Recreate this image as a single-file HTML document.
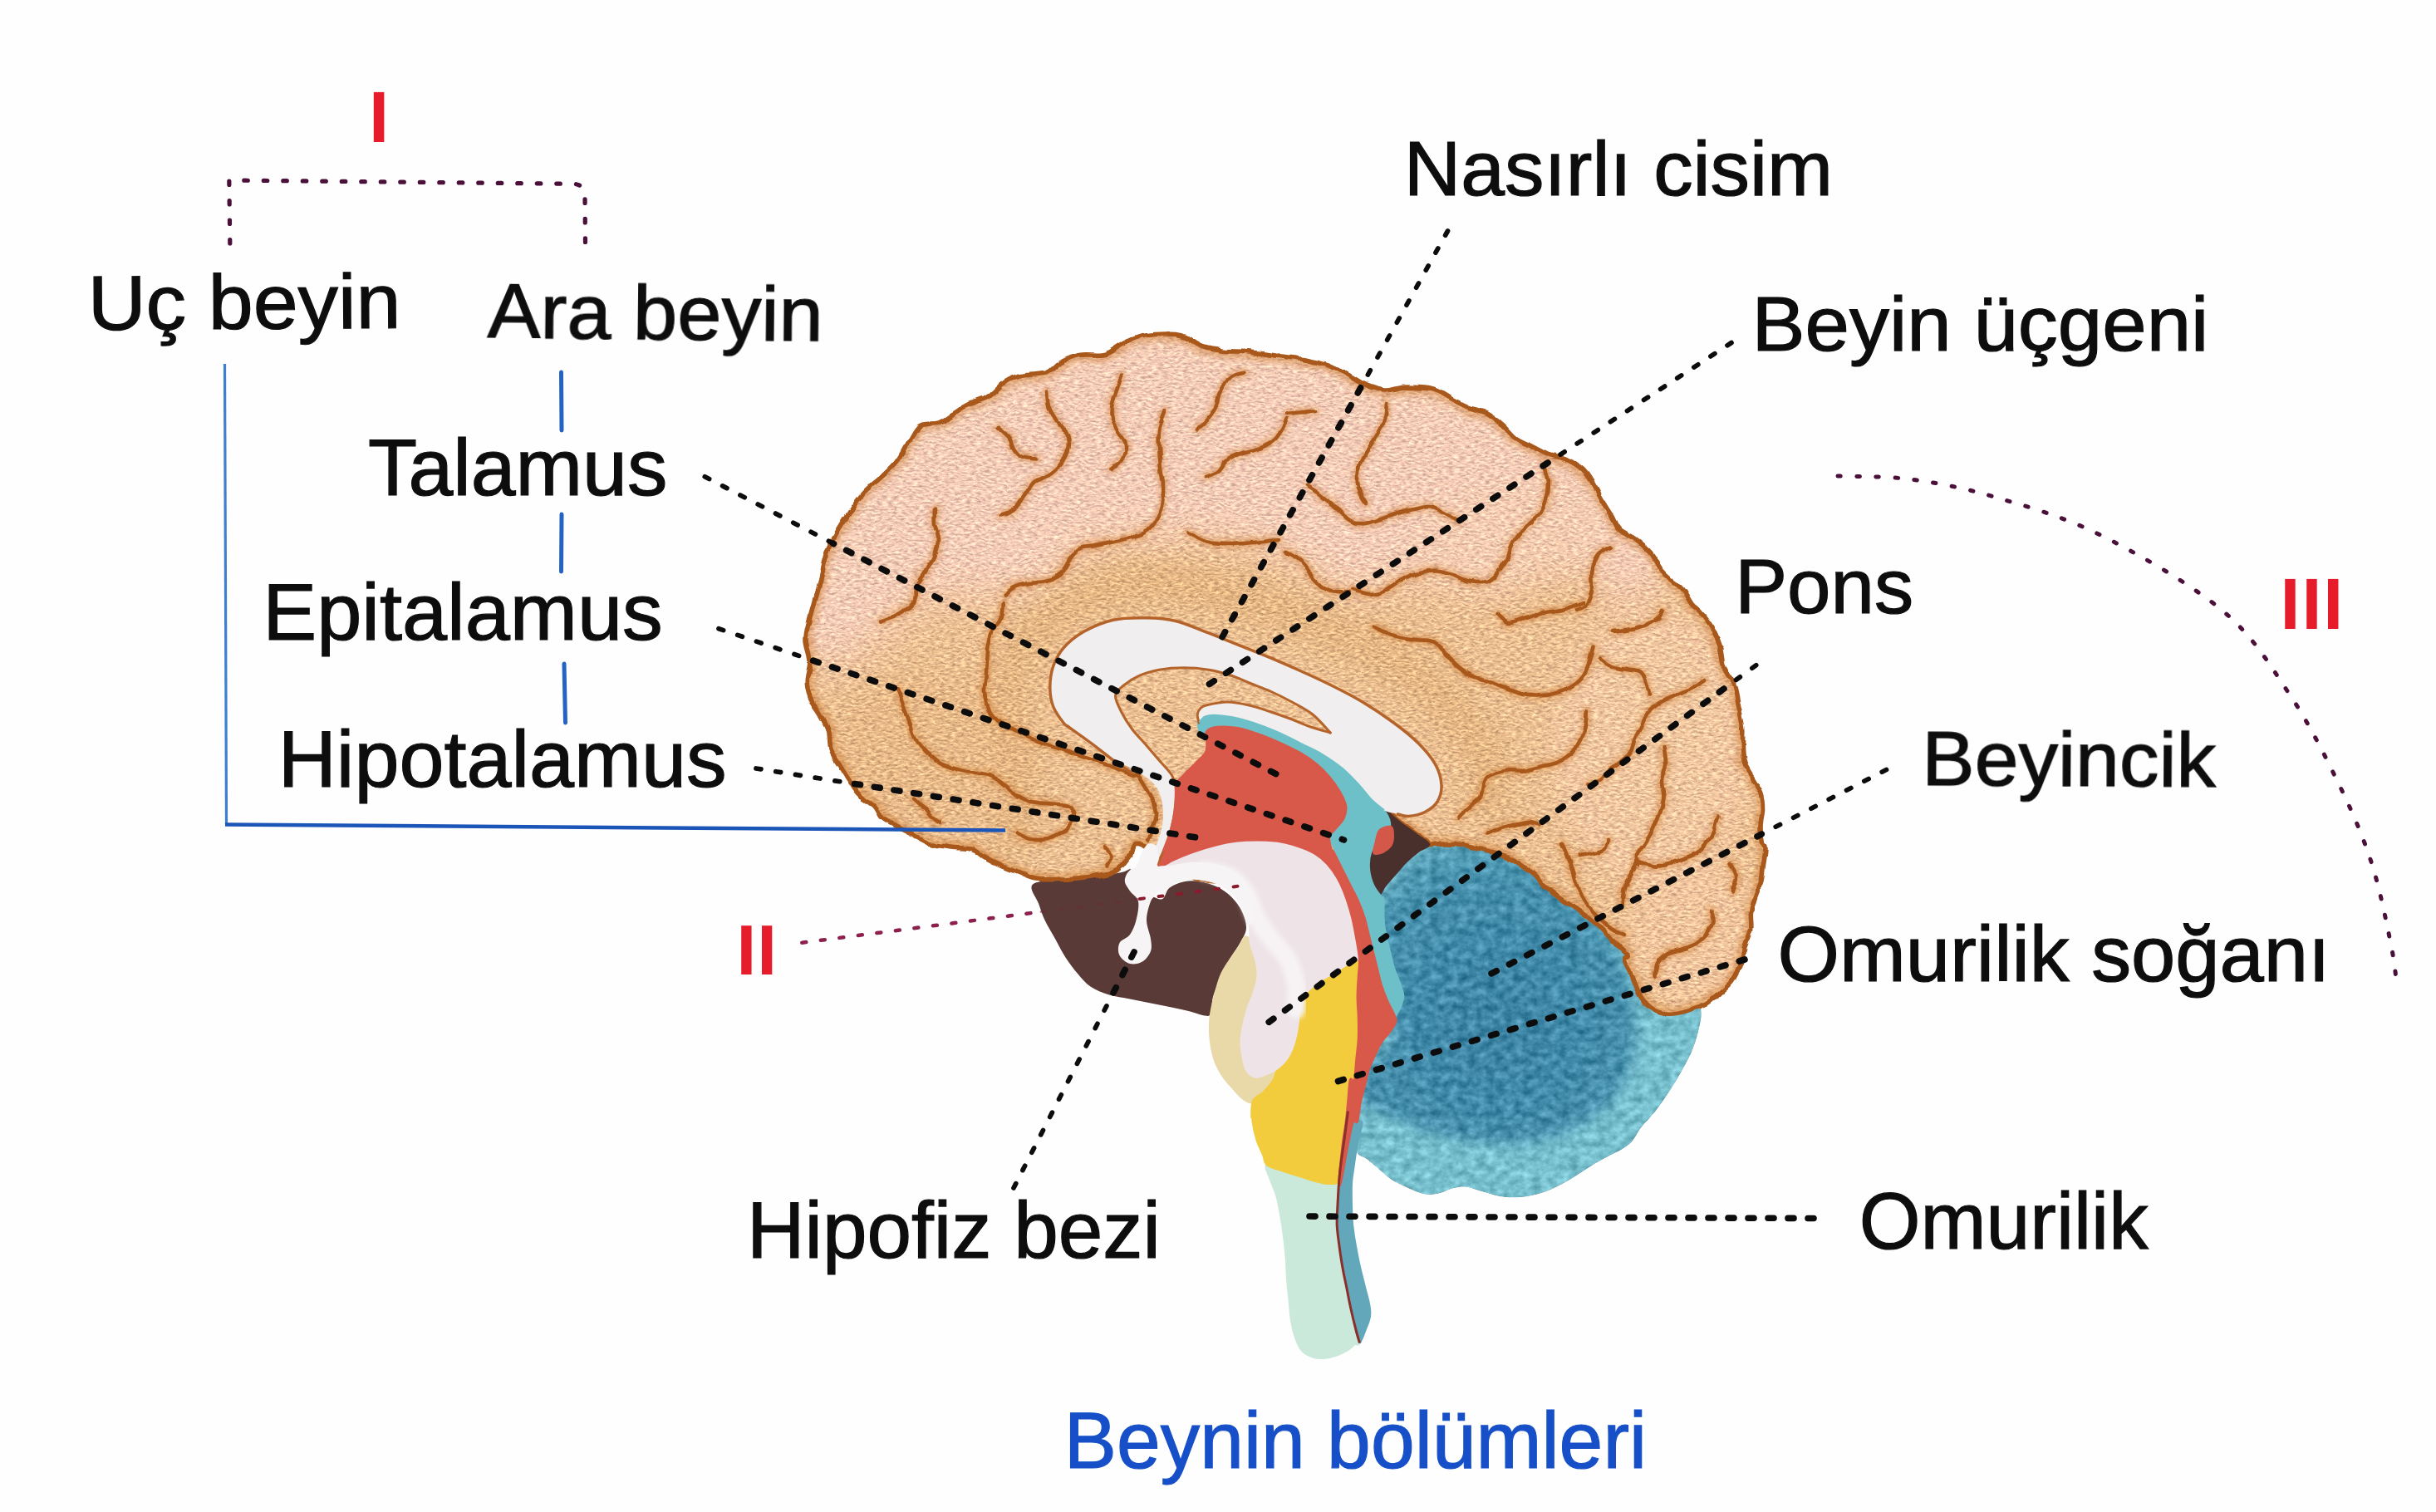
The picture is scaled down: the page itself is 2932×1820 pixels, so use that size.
<!DOCTYPE html>
<html lang="tr"><head><meta charset="utf-8"><title>Beynin bölümleri</title>
<style>
html,body{margin:0;padding:0;background:#fefefe;}
body{width:2932px;height:1820px;overflow:hidden;}
svg{display:block;}
text{font-family:"Liberation Sans",sans-serif;}
</style></head><body>
<svg width="2932" height="1820" viewBox="0 0 2932 1820">
<defs>
<linearGradient id="gCer" gradientUnits="userSpaceOnUse" x1="1050" y1="450" x2="2050" y2="1200">
 <stop offset="0" stop-color="#f6cdb9"/><stop offset="0.4" stop-color="#f2c4a2"/><stop offset="1" stop-color="#ebbb88"/>
</linearGradient>
<radialGradient id="gCbl" gradientUnits="userSpaceOnUse" cx="1800" cy="1230" r="230">
 <stop offset="0" stop-color="#3c82a3"/><stop offset="0.75" stop-color="#4690ad"/><stop offset="1" stop-color="#5aa3b9"/>
</radialGradient>
<filter id="bt" x="-5%" y="-20%" width="110%" height="140%"><feGaussianBlur stdDeviation="0.7"/></filter>
<filter id="b3" x="-10%" y="-10%" width="120%" height="120%"><feGaussianBlur stdDeviation="3"/></filter>
<filter id="b8" x="-20%" y="-20%" width="140%" height="140%"><feGaussianBlur stdDeviation="8"/></filter>
<filter id="b14" x="-30%" y="-30%" width="160%" height="160%"><feGaussianBlur stdDeviation="14"/></filter>
<filter id="b24" x="-30%" y="-30%" width="160%" height="160%"><feGaussianBlur stdDeviation="24"/></filter>
<filter id="rough" x="-2%" y="-2%" width="104%" height="104%">
 <feTurbulence type="fractalNoise" baseFrequency="0.045" numOctaves="2" seed="5" result="t"/>
 <feDisplacementMap in="SourceGraphic" in2="t" scale="7" xChannelSelector="R" yChannelSelector="G"/>
</filter>
<filter id="texCer" x="0" y="0" width="100%" height="100%" color-interpolation-filters="sRGB">
 <feTurbulence type="fractalNoise" baseFrequency="0.16 0.42" numOctaves="2" seed="7" result="n"/>
 <feColorMatrix in="n" type="matrix" values="1 0 0 0 0  1 0 0 0 0  0.8 0 0 0 0.1  0 0 0 0 1" result="g"/>
 <feComposite in="SourceGraphic" in2="g" operator="arithmetic" k1="0" k2="1" k3="0.55" k4="-0.275" result="c"/>
 <feComposite in="c" in2="SourceGraphic" operator="in"/>
</filter>
<filter id="texCbl" x="0" y="0" width="100%" height="100%" color-interpolation-filters="sRGB">
 <feTurbulence type="fractalNoise" baseFrequency="0.09 0.11" numOctaves="3" seed="11" result="n"/>
 <feColorMatrix in="n" type="matrix" values="1 0 0 0 0  1 0 0 0 0  1 0 0 0 0  0 0 0 0 1" result="g"/>
 <feComposite in="SourceGraphic" in2="g" operator="arithmetic" k1="0" k2="1" k3="0.36" k4="-0.18" result="c"/>
 <feComposite in="c" in2="SourceGraphic" operator="in"/>
</filter>
</defs>
<rect width="2932" height="1820" fill="#fefefe"/>
<g filter="url(#texCbl)">
<path d="M1655.0 1080.0C1655.6 1073.8 1661.7 1055.8 1665.0 1045.0C1668.3 1034.2 1669.2 1025.0 1675.0 1015.0C1680.8 1005.0 1685.8 991.7 1700.0 985.0C1714.2 978.3 1738.3 972.5 1760.0 975.0C1781.7 977.5 1806.7 987.5 1830.0 1000.0C1853.3 1012.5 1873.3 1025.0 1900.0 1050.0C1926.7 1075.0 1966.7 1124.2 1990.0 1150.0C2013.3 1175.8 2030.4 1193.8 2040.0 1205.0C2049.6 1216.2 2046.7 1212.1 2047.5 1217.5C2048.3 1222.9 2046.7 1230.0 2045.0 1237.5C2043.3 1245.0 2040.8 1254.2 2037.5 1262.5C2034.2 1270.8 2029.6 1279.2 2025.0 1287.5C2020.4 1295.8 2015.4 1304.2 2010.0 1312.5C2004.6 1320.8 1998.3 1330.0 1992.5 1337.5C1986.7 1345.0 1980.4 1350.8 1975.0 1357.5C1969.6 1364.2 1968.3 1371.3 1960.0 1378.0C1951.7 1384.7 1934.2 1392.2 1925.0 1397.5C1915.8 1402.8 1911.7 1405.8 1905.0 1410.0C1898.3 1414.2 1891.7 1418.8 1885.0 1422.5C1878.3 1426.2 1871.7 1429.8 1865.0 1432.5C1858.3 1435.2 1851.7 1437.3 1845.0 1438.8C1838.3 1440.2 1831.7 1441.0 1825.0 1441.2C1818.3 1441.5 1812.1 1441.2 1805.0 1440.0C1797.9 1438.8 1789.2 1435.6 1782.5 1433.8C1775.8 1431.9 1770.4 1429.4 1765.0 1428.8C1759.6 1428.1 1755.4 1428.8 1750.0 1430.0C1744.6 1431.2 1738.3 1435.0 1732.5 1436.2C1726.7 1437.5 1721.2 1438.5 1715.0 1437.5C1708.8 1436.5 1701.7 1432.9 1695.0 1430.0C1688.3 1427.1 1680.8 1423.8 1675.0 1420.0C1669.2 1416.2 1665.0 1411.7 1660.0 1407.5C1655.0 1403.3 1649.6 1398.8 1645.0 1395.0C1640.4 1391.2 1634.6 1392.5 1632.5 1385.0C1630.4 1377.5 1631.7 1359.6 1632.5 1350.0C1633.3 1340.4 1635.8 1334.6 1637.5 1327.5C1639.2 1320.4 1640.8 1314.2 1642.5 1307.5C1644.2 1300.8 1645.4 1293.8 1647.5 1287.5C1649.6 1281.2 1652.5 1275.4 1655.0 1270.0C1657.5 1264.6 1659.6 1259.6 1662.5 1255.0C1665.4 1250.4 1670.0 1246.7 1672.5 1242.5C1675.0 1238.3 1675.8 1237.1 1677.5 1230.0C1679.2 1222.9 1682.1 1207.5 1682.5 1200.0C1682.9 1192.5 1681.2 1190.8 1680.0 1185.0C1678.8 1179.2 1676.7 1171.7 1675.0 1165.0C1673.3 1158.3 1671.7 1151.7 1670.0 1145.0C1668.3 1138.3 1666.2 1131.7 1665.0 1125.0C1663.8 1118.3 1663.1 1112.1 1662.5 1105.0C1661.9 1097.9 1662.5 1086.7 1661.2 1082.5C1660.0 1078.3 1654.4 1086.2 1655.0 1080.0Z" fill="#78bfce"/>
<path d="M1670.0 1075.0C1675.8 1068.3 1680.0 1049.8 1690.0 1040.0C1700.0 1030.2 1716.7 1021.0 1730.0 1016.0C1743.3 1011.0 1755.8 1008.5 1770.0 1010.0C1784.2 1011.5 1800.0 1017.9 1815.0 1025.0C1830.0 1032.1 1845.8 1042.1 1860.0 1052.5C1874.2 1062.9 1887.5 1075.4 1900.0 1087.5C1912.5 1099.6 1925.4 1111.2 1935.0 1125.0C1944.6 1138.8 1952.1 1154.2 1957.5 1170.0C1962.9 1185.8 1965.8 1205.0 1967.5 1220.0C1969.2 1235.0 1969.6 1246.7 1967.5 1260.0C1965.4 1273.3 1961.2 1287.5 1955.0 1300.0C1948.8 1312.5 1940.8 1325.0 1930.0 1335.0C1919.2 1345.0 1905.0 1353.3 1890.0 1360.0C1875.0 1366.7 1856.7 1372.5 1840.0 1375.0C1823.3 1377.5 1806.7 1376.2 1790.0 1375.0C1773.3 1373.8 1755.0 1370.8 1740.0 1367.5C1725.0 1364.2 1712.5 1359.6 1700.0 1355.0C1687.5 1350.4 1675.8 1344.6 1665.0 1340.0C1654.2 1335.4 1639.2 1335.0 1635.0 1327.5C1630.8 1320.0 1635.4 1305.4 1640.0 1295.0C1644.6 1284.6 1656.2 1273.8 1662.5 1265.0C1668.8 1256.2 1677.9 1251.7 1677.5 1242.5C1677.1 1233.3 1665.0 1223.8 1660.0 1210.0C1655.0 1196.2 1650.0 1176.7 1647.5 1160.0C1645.0 1143.3 1643.8 1123.3 1645.0 1110.0C1646.2 1096.7 1650.8 1085.8 1655.0 1080.0C1659.2 1074.2 1664.2 1081.7 1670.0 1075.0Z" fill="url(#gCbl)" filter="url(#b8)"/>
</g>
<path d="M1242.5 1065.0C1246.7 1060.2 1263.3 1060.2 1275.0 1058.8C1286.7 1057.3 1300.0 1057.7 1312.5 1056.2C1325.0 1054.8 1341.7 1051.5 1350.0 1050.0C1358.3 1048.5 1358.3 1044.2 1362.5 1047.5C1366.7 1050.8 1369.2 1064.2 1375.0 1070.0C1380.8 1075.8 1392.1 1082.7 1397.5 1082.5C1402.9 1082.3 1402.9 1072.3 1407.5 1068.8C1412.1 1065.2 1418.8 1062.5 1425.0 1061.2C1431.2 1060.0 1438.3 1060.2 1445.0 1061.2C1451.7 1062.3 1458.8 1064.4 1465.0 1067.5C1471.2 1070.6 1477.5 1075.0 1482.5 1080.0C1487.5 1085.0 1492.1 1091.2 1495.0 1097.5C1497.9 1103.8 1500.4 1111.2 1500.0 1117.5C1499.6 1123.8 1495.8 1128.8 1492.5 1135.0C1489.2 1141.2 1483.8 1148.3 1480.0 1155.0C1476.2 1161.7 1473.3 1167.5 1470.0 1175.0C1466.7 1182.5 1462.1 1192.5 1460.0 1200.0C1457.9 1207.5 1459.2 1216.2 1457.5 1220.0C1455.8 1223.8 1454.2 1222.9 1450.0 1222.5C1445.8 1222.1 1439.2 1219.2 1432.5 1217.5C1425.8 1215.8 1417.9 1214.2 1410.0 1212.5C1402.1 1210.8 1393.3 1209.2 1385.0 1207.5C1376.7 1205.8 1368.3 1204.2 1360.0 1202.5C1351.7 1200.8 1342.9 1200.0 1335.0 1197.5C1327.1 1195.0 1318.8 1191.7 1312.5 1187.5C1306.2 1183.3 1302.5 1178.3 1297.5 1172.5C1292.5 1166.7 1287.1 1159.6 1282.5 1152.5C1277.9 1145.4 1274.2 1137.5 1270.0 1130.0C1265.8 1122.5 1260.8 1114.6 1257.5 1107.5C1254.2 1100.4 1252.5 1094.6 1250.0 1087.5C1247.5 1080.4 1238.3 1069.8 1242.5 1065.0Z" fill="#5a3a36"/>
<clipPath id="cpCer"><path d="M1375.0 1017.5C1360.0 1012.5 1364.2 1025.8 1360.0 1030.0C1355.8 1034.2 1353.3 1039.2 1350.0 1042.5C1346.7 1045.8 1345.8 1047.9 1340.0 1050.0C1334.2 1052.1 1323.3 1053.8 1315.0 1055.0C1306.7 1056.2 1298.3 1056.9 1290.0 1057.5C1281.7 1058.1 1272.5 1058.8 1265.0 1058.8C1257.5 1058.8 1251.7 1059.0 1245.0 1057.5C1238.3 1056.0 1231.7 1052.5 1225.0 1050.0C1218.3 1047.5 1211.7 1045.4 1205.0 1042.5C1198.3 1039.6 1190.8 1035.8 1185.0 1032.5C1179.2 1029.2 1176.7 1024.6 1170.0 1022.5C1163.3 1020.4 1153.3 1021.2 1145.0 1020.0C1136.7 1018.8 1127.5 1017.5 1120.0 1015.0C1112.5 1012.5 1106.7 1008.3 1100.0 1005.0C1093.3 1001.7 1086.2 998.3 1080.0 995.0C1073.8 991.7 1067.1 989.2 1062.5 985.0C1057.9 980.8 1057.1 974.6 1052.5 970.0C1047.9 965.4 1040.0 962.5 1035.0 957.5C1030.0 952.5 1026.7 946.2 1022.5 940.0C1018.3 933.8 1013.8 926.2 1010.0 920.0C1006.2 913.8 1002.1 909.2 1000.0 902.5C997.9 895.8 999.6 887.1 997.5 880.0C995.4 872.9 991.2 866.7 987.5 860.0C983.8 853.3 977.7 846.7 975.0 840.0C972.3 833.3 971.2 827.5 971.2 820.0C971.2 812.5 975.2 803.3 975.0 795.0C974.8 786.7 970.2 777.9 970.0 770.0C969.8 762.1 971.2 758.3 973.8 747.5C976.2 736.7 981.5 718.8 985.0 705.0C988.5 691.2 992.1 674.2 995.0 665.0C997.9 655.8 997.9 657.9 1002.5 650.0C1007.1 642.1 1016.2 627.1 1022.5 617.5C1028.8 607.9 1033.8 599.6 1040.0 592.5C1046.2 585.4 1053.3 581.2 1060.0 575.0C1066.7 568.8 1074.2 562.5 1080.0 555.0C1085.8 547.5 1090.4 537.1 1095.0 530.0C1099.6 522.9 1101.7 516.0 1107.5 512.5C1113.3 509.0 1123.8 510.8 1130.0 508.8C1136.2 506.7 1139.2 503.5 1145.0 500.0C1150.8 496.5 1157.5 491.2 1165.0 487.5C1172.5 483.8 1182.5 482.1 1190.0 477.5C1197.5 472.9 1203.3 464.2 1210.0 460.0C1216.7 455.8 1221.7 454.4 1230.0 452.5C1238.3 450.6 1252.5 451.2 1260.0 448.8C1267.5 446.2 1268.3 441.0 1275.0 437.5C1281.7 434.0 1290.8 429.4 1300.0 427.5C1309.2 425.6 1320.8 428.8 1330.0 426.2C1339.2 423.8 1346.7 416.2 1355.0 412.5C1363.3 408.8 1370.0 405.4 1380.0 403.8C1390.0 402.1 1406.7 401.9 1415.0 402.5C1423.3 403.1 1424.6 405.0 1430.0 407.5C1435.4 410.0 1440.0 415.0 1447.5 417.5C1455.0 420.0 1465.8 421.5 1475.0 422.5C1484.2 423.5 1490.2 422.5 1502.5 423.8C1514.8 425.0 1537.1 428.3 1549.0 430.0C1560.9 431.7 1565.7 432.1 1574.0 433.8C1582.3 435.4 1590.7 436.9 1599.0 440.0C1607.3 443.1 1616.9 448.8 1624.0 452.5C1631.1 456.2 1634.4 459.6 1641.5 462.5C1648.6 465.4 1658.6 469.4 1666.5 470.0C1674.4 470.6 1679.4 466.5 1689.0 466.2C1698.6 466.0 1714.4 466.5 1724.0 468.8C1733.6 471.0 1739.4 476.5 1746.5 480.0C1753.6 483.5 1759.4 487.1 1766.5 490.0C1773.6 492.9 1781.9 493.8 1789.0 497.5C1796.1 501.2 1803.2 507.5 1809.0 512.5C1814.8 517.5 1818.2 523.3 1824.0 527.5C1829.8 531.7 1837.3 534.2 1844.0 537.5C1850.7 540.8 1857.3 545.0 1864.0 547.5C1870.7 550.0 1877.3 549.6 1884.0 552.5C1890.7 555.4 1898.6 560.0 1904.0 565.0C1909.4 570.0 1912.8 576.7 1916.5 582.5C1920.2 588.3 1922.8 593.8 1926.5 600.0C1930.2 606.2 1935.2 613.8 1939.0 620.0C1942.8 626.2 1944.0 632.5 1949.0 637.5C1954.0 642.5 1962.8 645.4 1969.0 650.0C1975.2 654.6 1981.5 659.2 1986.5 665.0C1991.5 670.8 1994.8 679.6 1999.0 685.0C2003.2 690.4 2007.3 693.8 2011.5 697.5C2015.7 701.2 2019.8 702.5 2024.0 707.5C2028.2 712.5 2033.0 722.9 2036.5 727.5C2040.0 732.1 2041.1 730.4 2045.0 735.0C2048.9 739.6 2055.8 747.9 2060.0 755.0C2064.2 762.1 2067.5 769.6 2070.0 777.5C2072.5 785.4 2072.1 794.6 2075.0 802.5C2077.9 810.4 2084.6 817.1 2087.5 825.0C2090.4 832.9 2090.8 841.7 2092.5 850.0C2094.2 858.3 2096.7 866.7 2097.5 875.0C2098.3 883.3 2097.1 892.5 2097.5 900.0C2097.9 907.5 2097.9 913.8 2100.0 920.0C2102.1 926.2 2106.7 931.7 2110.0 937.5C2113.3 943.3 2117.9 948.8 2120.0 955.0C2122.1 961.2 2122.5 968.3 2122.5 975.0C2122.5 981.7 2120.0 988.3 2120.0 995.0C2120.0 1001.7 2121.7 1010.8 2122.5 1015.0C2123.3 1019.2 2125.0 1015.8 2125.0 1020.0C2125.0 1024.2 2123.3 1033.3 2122.5 1040.0C2121.7 1046.7 2121.7 1053.3 2120.0 1060.0C2118.3 1066.7 2114.6 1073.3 2112.5 1080.0C2110.4 1086.7 2108.3 1093.3 2107.5 1100.0C2106.7 1106.7 2108.8 1113.3 2107.5 1120.0C2106.2 1126.7 2102.1 1133.3 2100.0 1140.0C2097.9 1146.7 2097.5 1153.3 2095.0 1160.0C2092.5 1166.7 2089.2 1174.2 2085.0 1180.0C2080.8 1185.8 2075.0 1190.4 2070.0 1195.0C2065.0 1199.6 2060.8 1204.2 2055.0 1207.5C2049.2 1210.8 2041.7 1212.9 2035.0 1215.0C2028.3 1217.1 2021.2 1219.4 2015.0 1220.0C2008.8 1220.6 2002.9 1220.4 1997.5 1218.8C1992.1 1217.1 1986.7 1214.0 1982.5 1210.0C1978.3 1206.0 1975.4 1200.8 1972.5 1195.0C1969.6 1189.2 1967.9 1181.7 1965.0 1175.0C1962.1 1168.3 1955.8 1159.2 1955.0 1155.0C1954.2 1150.8 1961.9 1153.6 1960.0 1150.0C1958.1 1146.4 1948.9 1138.9 1943.3 1133.3C1937.8 1127.8 1932.2 1121.7 1926.7 1116.7C1921.1 1111.7 1915.6 1107.5 1910.0 1103.3C1904.4 1099.2 1898.9 1095.6 1893.3 1091.7C1887.8 1087.8 1882.2 1084.2 1876.7 1080.0C1871.1 1075.8 1865.6 1071.7 1860.0 1066.7C1854.4 1061.7 1848.9 1054.7 1843.3 1050.0C1837.8 1045.3 1832.8 1041.9 1826.7 1038.3C1820.6 1034.7 1813.6 1030.8 1806.7 1028.3C1799.7 1025.8 1792.8 1025.3 1785.0 1023.3C1777.2 1021.4 1767.5 1018.1 1760.0 1016.7C1752.5 1015.3 1745.8 1015.0 1740.0 1015.0C1734.2 1015.0 1728.2 1016.3 1725.0 1016.7C1721.8 1017.0 1724.2 1019.1 1720.8 1017.0C1717.5 1014.9 1710.7 1008.5 1705.0 1004.2C1699.3 999.8 1691.4 994.4 1686.7 990.8C1681.9 987.2 1680.0 985.4 1676.7 982.5C1673.3 979.6 1679.4 963.8 1666.7 973.3C1653.9 982.9 1636.1 1025.6 1600.0 1040.0C1563.9 1054.4 1487.5 1063.8 1450.0 1060.0C1412.5 1056.2 1390.0 1022.5 1375.0 1017.5Z"/></clipPath>
<g filter="url(#rough)">
<g filter="url(#texCer)">
<path d="M1375.0 1017.5C1360.0 1012.5 1364.2 1025.8 1360.0 1030.0C1355.8 1034.2 1353.3 1039.2 1350.0 1042.5C1346.7 1045.8 1345.8 1047.9 1340.0 1050.0C1334.2 1052.1 1323.3 1053.8 1315.0 1055.0C1306.7 1056.2 1298.3 1056.9 1290.0 1057.5C1281.7 1058.1 1272.5 1058.8 1265.0 1058.8C1257.5 1058.8 1251.7 1059.0 1245.0 1057.5C1238.3 1056.0 1231.7 1052.5 1225.0 1050.0C1218.3 1047.5 1211.7 1045.4 1205.0 1042.5C1198.3 1039.6 1190.8 1035.8 1185.0 1032.5C1179.2 1029.2 1176.7 1024.6 1170.0 1022.5C1163.3 1020.4 1153.3 1021.2 1145.0 1020.0C1136.7 1018.8 1127.5 1017.5 1120.0 1015.0C1112.5 1012.5 1106.7 1008.3 1100.0 1005.0C1093.3 1001.7 1086.2 998.3 1080.0 995.0C1073.8 991.7 1067.1 989.2 1062.5 985.0C1057.9 980.8 1057.1 974.6 1052.5 970.0C1047.9 965.4 1040.0 962.5 1035.0 957.5C1030.0 952.5 1026.7 946.2 1022.5 940.0C1018.3 933.8 1013.8 926.2 1010.0 920.0C1006.2 913.8 1002.1 909.2 1000.0 902.5C997.9 895.8 999.6 887.1 997.5 880.0C995.4 872.9 991.2 866.7 987.5 860.0C983.8 853.3 977.7 846.7 975.0 840.0C972.3 833.3 971.2 827.5 971.2 820.0C971.2 812.5 975.2 803.3 975.0 795.0C974.8 786.7 970.2 777.9 970.0 770.0C969.8 762.1 971.2 758.3 973.8 747.5C976.2 736.7 981.5 718.8 985.0 705.0C988.5 691.2 992.1 674.2 995.0 665.0C997.9 655.8 997.9 657.9 1002.5 650.0C1007.1 642.1 1016.2 627.1 1022.5 617.5C1028.8 607.9 1033.8 599.6 1040.0 592.5C1046.2 585.4 1053.3 581.2 1060.0 575.0C1066.7 568.8 1074.2 562.5 1080.0 555.0C1085.8 547.5 1090.4 537.1 1095.0 530.0C1099.6 522.9 1101.7 516.0 1107.5 512.5C1113.3 509.0 1123.8 510.8 1130.0 508.8C1136.2 506.7 1139.2 503.5 1145.0 500.0C1150.8 496.5 1157.5 491.2 1165.0 487.5C1172.5 483.8 1182.5 482.1 1190.0 477.5C1197.5 472.9 1203.3 464.2 1210.0 460.0C1216.7 455.8 1221.7 454.4 1230.0 452.5C1238.3 450.6 1252.5 451.2 1260.0 448.8C1267.5 446.2 1268.3 441.0 1275.0 437.5C1281.7 434.0 1290.8 429.4 1300.0 427.5C1309.2 425.6 1320.8 428.8 1330.0 426.2C1339.2 423.8 1346.7 416.2 1355.0 412.5C1363.3 408.8 1370.0 405.4 1380.0 403.8C1390.0 402.1 1406.7 401.9 1415.0 402.5C1423.3 403.1 1424.6 405.0 1430.0 407.5C1435.4 410.0 1440.0 415.0 1447.5 417.5C1455.0 420.0 1465.8 421.5 1475.0 422.5C1484.2 423.5 1490.2 422.5 1502.5 423.8C1514.8 425.0 1537.1 428.3 1549.0 430.0C1560.9 431.7 1565.7 432.1 1574.0 433.8C1582.3 435.4 1590.7 436.9 1599.0 440.0C1607.3 443.1 1616.9 448.8 1624.0 452.5C1631.1 456.2 1634.4 459.6 1641.5 462.5C1648.6 465.4 1658.6 469.4 1666.5 470.0C1674.4 470.6 1679.4 466.5 1689.0 466.2C1698.6 466.0 1714.4 466.5 1724.0 468.8C1733.6 471.0 1739.4 476.5 1746.5 480.0C1753.6 483.5 1759.4 487.1 1766.5 490.0C1773.6 492.9 1781.9 493.8 1789.0 497.5C1796.1 501.2 1803.2 507.5 1809.0 512.5C1814.8 517.5 1818.2 523.3 1824.0 527.5C1829.8 531.7 1837.3 534.2 1844.0 537.5C1850.7 540.8 1857.3 545.0 1864.0 547.5C1870.7 550.0 1877.3 549.6 1884.0 552.5C1890.7 555.4 1898.6 560.0 1904.0 565.0C1909.4 570.0 1912.8 576.7 1916.5 582.5C1920.2 588.3 1922.8 593.8 1926.5 600.0C1930.2 606.2 1935.2 613.8 1939.0 620.0C1942.8 626.2 1944.0 632.5 1949.0 637.5C1954.0 642.5 1962.8 645.4 1969.0 650.0C1975.2 654.6 1981.5 659.2 1986.5 665.0C1991.5 670.8 1994.8 679.6 1999.0 685.0C2003.2 690.4 2007.3 693.8 2011.5 697.5C2015.7 701.2 2019.8 702.5 2024.0 707.5C2028.2 712.5 2033.0 722.9 2036.5 727.5C2040.0 732.1 2041.1 730.4 2045.0 735.0C2048.9 739.6 2055.8 747.9 2060.0 755.0C2064.2 762.1 2067.5 769.6 2070.0 777.5C2072.5 785.4 2072.1 794.6 2075.0 802.5C2077.9 810.4 2084.6 817.1 2087.5 825.0C2090.4 832.9 2090.8 841.7 2092.5 850.0C2094.2 858.3 2096.7 866.7 2097.5 875.0C2098.3 883.3 2097.1 892.5 2097.5 900.0C2097.9 907.5 2097.9 913.8 2100.0 920.0C2102.1 926.2 2106.7 931.7 2110.0 937.5C2113.3 943.3 2117.9 948.8 2120.0 955.0C2122.1 961.2 2122.5 968.3 2122.5 975.0C2122.5 981.7 2120.0 988.3 2120.0 995.0C2120.0 1001.7 2121.7 1010.8 2122.5 1015.0C2123.3 1019.2 2125.0 1015.8 2125.0 1020.0C2125.0 1024.2 2123.3 1033.3 2122.5 1040.0C2121.7 1046.7 2121.7 1053.3 2120.0 1060.0C2118.3 1066.7 2114.6 1073.3 2112.5 1080.0C2110.4 1086.7 2108.3 1093.3 2107.5 1100.0C2106.7 1106.7 2108.8 1113.3 2107.5 1120.0C2106.2 1126.7 2102.1 1133.3 2100.0 1140.0C2097.9 1146.7 2097.5 1153.3 2095.0 1160.0C2092.5 1166.7 2089.2 1174.2 2085.0 1180.0C2080.8 1185.8 2075.0 1190.4 2070.0 1195.0C2065.0 1199.6 2060.8 1204.2 2055.0 1207.5C2049.2 1210.8 2041.7 1212.9 2035.0 1215.0C2028.3 1217.1 2021.2 1219.4 2015.0 1220.0C2008.8 1220.6 2002.9 1220.4 1997.5 1218.8C1992.1 1217.1 1986.7 1214.0 1982.5 1210.0C1978.3 1206.0 1975.4 1200.8 1972.5 1195.0C1969.6 1189.2 1967.9 1181.7 1965.0 1175.0C1962.1 1168.3 1955.8 1159.2 1955.0 1155.0C1954.2 1150.8 1961.9 1153.6 1960.0 1150.0C1958.1 1146.4 1948.9 1138.9 1943.3 1133.3C1937.8 1127.8 1932.2 1121.7 1926.7 1116.7C1921.1 1111.7 1915.6 1107.5 1910.0 1103.3C1904.4 1099.2 1898.9 1095.6 1893.3 1091.7C1887.8 1087.8 1882.2 1084.2 1876.7 1080.0C1871.1 1075.8 1865.6 1071.7 1860.0 1066.7C1854.4 1061.7 1848.9 1054.7 1843.3 1050.0C1837.8 1045.3 1832.8 1041.9 1826.7 1038.3C1820.6 1034.7 1813.6 1030.8 1806.7 1028.3C1799.7 1025.8 1792.8 1025.3 1785.0 1023.3C1777.2 1021.4 1767.5 1018.1 1760.0 1016.7C1752.5 1015.3 1745.8 1015.0 1740.0 1015.0C1734.2 1015.0 1728.2 1016.3 1725.0 1016.7C1721.8 1017.0 1724.2 1019.1 1720.8 1017.0C1717.5 1014.9 1710.7 1008.5 1705.0 1004.2C1699.3 999.8 1691.4 994.4 1686.7 990.8C1681.9 987.2 1680.0 985.4 1676.7 982.5C1673.3 979.6 1679.4 963.8 1666.7 973.3C1653.9 982.9 1636.1 1025.6 1600.0 1040.0C1563.9 1054.4 1487.5 1063.8 1450.0 1060.0C1412.5 1056.2 1390.0 1022.5 1375.0 1017.5Z" fill="#ecc093"/>
<g clip-path="url(#cpCer)">
<path d="M940.0 780.0C931.7 763.3 950.0 730.0 960.0 700.0C970.0 670.0 978.3 633.3 1000.0 600.0C1021.7 566.7 1056.7 525.0 1090.0 500.0C1123.3 475.0 1165.0 465.0 1200.0 450.0C1235.0 435.0 1266.7 420.8 1300.0 410.0C1333.3 399.2 1366.7 385.8 1400.0 385.0C1433.3 384.2 1466.7 399.2 1500.0 405.0C1533.3 410.8 1566.7 412.5 1600.0 420.0C1633.3 427.5 1666.7 440.0 1700.0 450.0C1733.3 460.0 1768.3 465.8 1800.0 480.0C1831.7 494.2 1863.3 515.0 1890.0 535.0C1916.7 555.0 1940.0 577.5 1960.0 600.0C1980.0 622.5 2010.0 648.3 2010.0 670.0C2010.0 691.7 1981.7 730.8 1960.0 730.0C1938.3 729.2 1906.7 669.2 1880.0 665.0C1853.3 660.8 1830.0 700.5 1800.0 705.0C1770.0 709.5 1726.7 690.5 1700.0 692.0C1673.3 693.5 1660.0 714.7 1640.0 714.0C1620.0 713.3 1603.3 698.3 1580.0 688.0C1556.7 677.7 1530.0 658.7 1500.0 652.0C1470.0 645.3 1433.3 646.3 1400.0 648.0C1366.7 649.7 1321.7 653.0 1300.0 662.0C1278.3 671.0 1286.7 693.0 1270.0 702.0C1253.3 711.0 1225.0 713.0 1200.0 716.0C1175.0 719.0 1143.3 712.7 1120.0 720.0C1096.7 727.3 1078.3 746.7 1060.0 760.0C1041.7 773.3 1030.0 796.7 1010.0 800.0C990.0 803.3 948.3 796.7 940.0 780.0Z" fill="#f6cdb9" filter="url(#b24)" opacity="0.95"/>
<ellipse cx="1990" cy="900" rx="120" ry="170" fill="#f3c8a4" filter="url(#b14)" opacity="0.8"/>
<ellipse cx="2040" cy="1120" rx="80" ry="90" fill="#f3c6a0" filter="url(#b14)" opacity="0.8"/>
<ellipse cx="1820" cy="640" rx="120" ry="60" fill="#f5ccb0" filter="url(#b14)" opacity="0.7"/>
<path d="M1215.0 1010.0C1217.2 998.3 1228.5 964.2 1228.0 940.0C1227.5 915.8 1213.0 888.3 1212.0 865.0C1211.0 841.7 1214.3 819.2 1222.0 800.0C1229.7 780.8 1241.7 764.7 1258.0 750.0C1274.3 735.3 1296.3 720.0 1320.0 712.0C1343.7 704.0 1373.3 701.3 1400.0 702.0C1426.7 702.7 1453.3 709.3 1480.0 716.0C1506.7 722.7 1533.3 732.0 1560.0 742.0C1586.7 752.0 1615.8 763.8 1640.0 776.0C1664.2 788.2 1685.8 800.7 1705.0 815.0C1724.2 829.3 1741.2 845.3 1755.0 862.0C1768.8 878.7 1781.3 897.8 1788.0 915.0C1794.7 932.2 1793.8 956.7 1795.0 965.0" fill="none" stroke="#e3b480" stroke-width="50" stroke-linecap="round" filter="url(#b14)" opacity="0.8"/>
<ellipse cx="1120" cy="900" rx="120" ry="90" fill="#e6b683" filter="url(#b14)" opacity="0.6"/>
</g>
</g>
<g clip-path="url(#cpCer)">
<g filter="url(#b3)" opacity="0.45" fill="none" stroke="#c9772f" stroke-width="11" stroke-linecap="round" stroke-linejoin="round">
<path d="M1202.5 515.0C1204.6 517.1 1212.1 523.3 1215.0 527.5C1217.9 531.7 1217.5 536.2 1220.0 540.0C1222.5 543.8 1225.4 547.9 1230.0 550.0C1234.6 552.1 1244.6 552.1 1247.5 552.5"/>
<path d="M1260.0 472.5C1260.4 475.4 1260.4 484.2 1262.5 490.0C1264.6 495.8 1268.8 501.7 1272.5 507.5C1276.2 513.3 1282.7 519.6 1285.0 525.0C1287.3 530.4 1287.5 534.6 1286.2 540.0C1285.0 545.4 1281.0 552.5 1277.5 557.5C1274.0 562.5 1270.4 566.2 1265.0 570.0C1259.6 573.8 1250.4 575.4 1245.0 580.0C1239.6 584.6 1236.7 591.7 1232.5 597.5C1228.3 603.3 1224.6 611.0 1220.0 615.0C1215.4 619.0 1207.5 620.2 1205.0 621.2"/>
<path d="M1350.0 452.5C1348.8 456.2 1344.6 467.5 1342.5 475.0C1340.4 482.5 1337.1 490.4 1337.5 497.5C1337.9 504.6 1342.1 511.2 1345.0 517.5C1347.9 523.8 1354.2 529.2 1355.0 535.0C1355.8 540.8 1352.9 547.5 1350.0 552.5C1347.1 557.5 1339.6 562.9 1337.5 565.0"/>
<path d="M1402.5 495.0C1401.2 499.2 1396.0 510.0 1395.0 520.0C1394.0 530.0 1395.4 544.2 1396.2 555.0C1397.1 565.8 1399.8 575.4 1400.0 585.0C1400.2 594.6 1399.6 604.6 1397.5 612.5C1395.4 620.4 1391.2 627.5 1387.5 632.5C1383.8 637.5 1381.2 639.6 1375.0 642.5C1368.8 645.4 1360.0 647.5 1350.0 650.0C1340.0 652.5 1323.3 655.8 1315.0 657.5C1306.7 659.2 1304.2 657.9 1300.0 660.0C1295.8 662.1 1294.2 664.6 1290.0 670.0C1285.8 675.4 1280.4 687.5 1275.0 692.5C1269.6 697.5 1263.8 698.3 1257.5 700.0C1251.2 701.7 1243.8 701.2 1237.5 702.5C1231.2 703.8 1224.8 705.0 1220.0 707.5C1215.2 710.0 1210.6 715.8 1208.8 717.5"/>
<path d="M1497.5 448.8C1494.6 449.8 1485.0 450.6 1480.0 455.0C1475.0 459.4 1470.4 468.8 1467.5 475.0C1464.6 481.2 1465.0 487.1 1462.5 492.5C1460.0 497.9 1456.2 503.5 1452.5 507.5C1448.8 511.5 1442.1 514.8 1440.0 516.2"/>
<path d="M1549.0 505.0C1546.7 508.8 1540.7 521.7 1535.0 527.5C1529.3 533.3 1522.5 536.7 1515.0 540.0C1507.5 543.3 1496.7 545.0 1490.0 547.5C1483.3 550.0 1479.2 551.7 1475.0 555.0C1470.8 558.3 1469.2 564.4 1465.0 567.5C1460.8 570.6 1452.5 572.7 1450.0 573.8"/>
<path d="M1430.0 642.5C1433.8 644.2 1444.6 650.4 1452.5 652.5C1460.4 654.6 1467.1 655.0 1477.5 655.0C1487.9 655.0 1504.6 653.3 1515.0 652.5C1525.4 651.7 1535.8 650.4 1540.0 650.0"/>
<path d="M1125.0 612.5C1125.0 615.4 1124.2 623.8 1125.0 630.0C1125.8 636.2 1130.0 643.3 1130.0 650.0C1130.0 656.7 1127.5 664.2 1125.0 670.0C1122.5 675.8 1118.8 679.2 1115.0 685.0C1111.2 690.8 1105.0 698.3 1102.5 705.0C1100.0 711.7 1103.8 719.2 1100.0 725.0C1096.2 730.8 1086.7 736.2 1080.0 740.0C1073.3 743.8 1063.3 746.2 1060.0 747.5"/>
<path d="M1669.0 485.0C1668.6 488.3 1668.6 498.3 1666.5 505.0C1664.4 511.7 1660.2 518.3 1656.5 525.0C1652.8 531.7 1647.8 537.9 1644.0 545.0C1640.2 552.1 1635.7 560.4 1634.0 567.5C1632.3 574.6 1632.3 581.2 1634.0 587.5C1635.7 593.8 1642.3 602.1 1644.0 605.0"/>
<path d="M1549.0 498.8C1551.5 498.5 1558.2 498.1 1564.0 497.5C1569.8 496.9 1580.7 495.4 1584.0 495.0"/>
<path d="M1574.0 585.0C1576.9 587.1 1585.7 592.9 1591.5 597.5C1597.3 602.1 1603.2 607.5 1609.0 612.5C1614.8 617.5 1620.7 624.6 1626.5 627.5C1632.3 630.4 1636.9 630.8 1644.0 630.0C1651.1 629.2 1660.7 625.0 1669.0 622.5C1677.3 620.0 1685.7 617.1 1694.0 615.0C1702.3 612.9 1711.5 609.6 1719.0 610.0C1726.5 610.4 1732.8 614.6 1739.0 617.5C1745.2 620.4 1753.6 625.8 1756.5 627.5"/>
<path d="M1859.0 560.0C1859.8 563.3 1863.6 573.3 1864.0 580.0C1864.4 586.7 1863.2 593.8 1861.5 600.0C1859.8 606.2 1857.3 612.5 1854.0 617.5C1850.7 622.5 1845.7 625.8 1841.5 630.0C1837.3 634.2 1832.8 637.9 1829.0 642.5C1825.2 647.1 1821.9 652.1 1819.0 657.5C1816.1 662.9 1814.4 669.6 1811.5 675.0C1808.6 680.4 1805.2 685.8 1801.5 690.0C1797.8 694.2 1794.4 698.3 1789.0 700.0C1783.6 701.7 1775.7 701.2 1769.0 700.0C1762.3 698.8 1755.7 694.6 1749.0 692.5C1742.3 690.4 1735.7 687.9 1729.0 687.5C1722.3 687.1 1715.7 688.3 1709.0 690.0C1702.3 691.7 1695.7 694.2 1689.0 697.5C1682.3 700.8 1675.7 707.1 1669.0 710.0C1662.3 712.9 1655.7 715.0 1649.0 715.0C1642.3 715.0 1632.3 710.8 1629.0 710.0"/>
<path d="M1549.0 665.0C1551.5 666.7 1559.0 670.4 1564.0 675.0C1569.0 679.6 1573.2 686.7 1579.0 692.5C1584.8 698.3 1591.5 706.7 1599.0 710.0C1606.5 713.3 1619.8 712.1 1624.0 712.5"/>
<path d="M1939.0 657.5C1936.5 659.2 1927.8 662.5 1924.0 667.5C1920.2 672.5 1917.8 680.8 1916.5 687.5C1915.2 694.2 1917.8 700.8 1916.5 707.5C1915.2 714.2 1911.9 723.1 1909.0 727.5C1906.1 731.9 1900.7 732.7 1899.0 733.8"/>
<path d="M1206.7 728.3C1206.4 730.6 1206.9 736.7 1205.0 741.7C1203.1 746.7 1197.5 752.8 1195.0 758.3C1192.5 763.9 1191.1 769.2 1190.0 775.0C1188.9 780.8 1188.9 786.9 1188.3 793.3C1187.8 799.7 1187.2 806.7 1186.7 813.3C1186.1 820.0 1184.7 827.2 1185.0 833.3C1185.3 839.4 1186.7 845.3 1188.3 850.0C1190.0 854.7 1191.9 858.1 1195.0 861.7C1198.1 865.3 1201.9 868.6 1206.7 871.7C1211.4 874.7 1217.2 876.9 1223.3 880.0C1229.4 883.1 1236.1 886.9 1243.3 890.0C1250.6 893.1 1258.9 895.6 1266.7 898.3C1274.4 901.1 1281.9 903.9 1290.0 906.7C1298.1 909.4 1306.7 912.2 1315.0 915.0C1323.3 917.8 1331.7 920.3 1340.0 923.3C1348.3 926.4 1360.3 932.0 1365.0 933.3C1369.7 934.7 1366.2 929.4 1368.4 931.6C1370.7 933.8 1375.6 941.9 1378.5 946.7C1381.4 951.5 1383.9 955.1 1386.0 960.5C1388.1 965.9 1391.1 973.1 1391.1 979.3C1391.1 985.6 1387.7 993.0 1386.0 998.2C1384.4 1003.4 1381.8 1008.7 1381.0 1010.8"/>
<path d="M1080.0 830.0C1081.2 833.3 1085.0 843.3 1087.5 850.0C1090.0 856.7 1092.5 863.3 1095.0 870.0C1097.5 876.7 1099.2 884.2 1102.5 890.0C1105.8 895.8 1110.4 900.4 1115.0 905.0C1119.6 909.6 1124.2 914.2 1130.0 917.5C1135.8 920.8 1142.5 922.9 1150.0 925.0C1157.5 927.1 1167.5 928.3 1175.0 930.0C1182.5 931.7 1189.2 932.5 1195.0 935.0C1200.8 937.5 1205.4 941.2 1210.0 945.0C1214.6 948.8 1217.5 954.2 1222.5 957.5C1227.5 960.8 1232.9 963.3 1240.0 965.0C1247.1 966.7 1257.5 966.7 1265.0 967.5C1272.5 968.3 1280.4 967.9 1285.0 970.0C1289.6 972.1 1291.7 976.2 1292.5 980.0C1293.3 983.8 1292.5 988.8 1290.0 992.5C1287.5 996.2 1282.1 999.6 1277.5 1002.5C1272.9 1005.4 1268.8 1008.8 1262.5 1010.0C1256.2 1011.2 1246.2 1011.2 1240.0 1010.0C1233.8 1008.8 1227.5 1003.8 1225.0 1002.5"/>
<path d="M1100.0 960.0C1101.7 961.7 1106.7 966.2 1110.0 970.0C1113.3 973.8 1116.7 979.2 1120.0 982.5C1123.3 985.8 1128.3 988.8 1130.0 990.0"/>
<path d="M1330.0 1020.0C1331.2 1021.7 1337.1 1026.2 1337.5 1030.0C1337.9 1033.8 1333.3 1040.4 1332.5 1042.5"/>
<path d="M1655.0 755.0C1658.8 756.7 1669.2 762.5 1677.5 765.0C1685.8 767.5 1697.1 768.8 1705.0 770.0C1712.9 771.2 1719.2 770.0 1725.0 772.5C1730.8 775.0 1735.4 780.4 1740.0 785.0C1744.6 789.6 1747.5 795.4 1752.5 800.0C1757.5 804.6 1763.8 809.2 1770.0 812.5C1776.2 815.8 1783.3 817.5 1790.0 820.0C1796.7 822.5 1803.3 825.0 1810.0 827.5C1816.7 830.0 1823.3 833.3 1830.0 835.0C1836.7 836.7 1843.3 837.5 1850.0 837.5C1856.7 837.5 1863.3 836.7 1870.0 835.0C1876.7 833.3 1884.2 830.8 1890.0 827.5C1895.8 824.2 1901.2 820.0 1905.0 815.0C1908.8 810.0 1910.4 803.8 1912.5 797.5C1914.6 791.2 1916.7 780.8 1917.5 777.5"/>
<path d="M1802.5 740.0C1804.6 741.7 1809.6 749.2 1815.0 750.0C1820.4 750.8 1827.5 747.1 1835.0 745.0C1842.5 742.9 1851.7 739.6 1860.0 737.5C1868.3 735.4 1877.5 734.6 1885.0 732.5C1892.5 730.4 1901.7 726.2 1905.0 725.0"/>
<path d="M1940.0 760.0C1943.3 759.6 1953.3 758.8 1960.0 757.5C1966.7 756.2 1974.2 754.6 1980.0 752.5C1985.8 750.4 1991.7 747.9 1995.0 745.0C1998.3 742.1 1999.2 736.7 2000.0 735.0"/>
<path d="M1925.0 792.5C1927.5 794.2 1934.2 800.2 1940.0 802.5C1945.8 804.8 1954.2 805.0 1960.0 806.2C1965.8 807.5 1971.2 806.9 1975.0 810.0C1978.8 813.1 1980.8 820.4 1982.5 825.0C1984.2 829.6 1984.6 835.4 1985.0 837.5"/>
<path d="M2050.0 820.0C2047.5 821.7 2040.8 827.1 2035.0 830.0C2029.2 832.9 2021.7 834.6 2015.0 837.5C2008.3 840.4 2000.4 843.8 1995.0 847.5C1989.6 851.2 1985.8 855.4 1982.5 860.0C1979.2 864.6 1977.5 870.0 1975.0 875.0C1972.5 880.0 1969.6 885.0 1967.5 890.0C1965.4 895.0 1965.4 900.4 1962.5 905.0C1959.6 909.6 1954.6 913.3 1950.0 917.5C1945.4 921.7 1939.6 926.2 1935.0 930.0C1930.4 933.8 1926.2 937.5 1922.5 940.0C1918.8 942.5 1914.2 944.2 1912.5 945.0"/>
<path d="M1910.0 857.5C1909.6 860.4 1909.2 869.2 1907.5 875.0C1905.8 880.8 1902.9 887.1 1900.0 892.5C1897.1 897.9 1894.2 903.3 1890.0 907.5C1885.8 911.7 1880.8 915.0 1875.0 917.5C1869.2 920.0 1861.7 920.8 1855.0 922.5C1848.3 924.2 1841.7 926.7 1835.0 927.5C1828.3 928.3 1821.7 926.7 1815.0 927.5C1808.3 928.3 1799.6 930.4 1795.0 932.5C1790.4 934.6 1789.6 935.8 1787.5 940.0C1785.4 944.2 1785.4 952.5 1782.5 957.5C1779.6 962.5 1774.2 965.8 1770.0 970.0C1765.8 974.2 1759.6 980.4 1757.5 982.5"/>
<path d="M2002.5 900.0C2002.9 903.3 2005.4 913.3 2005.0 920.0C2004.6 926.7 2000.4 933.3 2000.0 940.0C1999.6 946.7 2002.9 953.3 2002.5 960.0C2002.1 966.7 1999.6 973.8 1997.5 980.0C1995.4 986.2 1992.9 991.7 1990.0 997.5C1987.1 1003.3 1983.3 1009.6 1980.0 1015.0C1976.7 1020.4 1971.2 1025.8 1970.0 1030.0C1968.8 1034.2 1972.1 1038.3 1972.5 1040.0"/>
<path d="M1972.5 1037.5C1975.4 1038.3 1983.8 1042.1 1990.0 1042.5C1996.2 1042.9 2003.3 1041.7 2010.0 1040.0C2016.7 1038.3 2024.2 1035.0 2030.0 1032.5C2035.8 1030.0 2040.0 1029.2 2045.0 1025.0C2050.0 1020.8 2056.7 1013.3 2060.0 1007.5C2063.3 1001.7 2063.8 994.2 2065.0 990.0C2066.2 985.8 2067.1 983.8 2067.5 982.5"/>
<path d="M1790.0 1002.5C1794.2 1001.2 1806.7 997.1 1815.0 995.0C1823.3 992.9 1833.8 990.4 1840.0 990.0C1846.2 989.6 1850.4 992.1 1852.5 992.5"/>
<path d="M1935.0 1010.0C1934.2 1012.1 1933.3 1019.6 1930.0 1022.5C1926.7 1025.4 1920.0 1026.2 1915.0 1027.5C1910.0 1028.8 1902.5 1029.6 1900.0 1030.0"/>
<path d="M1880.0 1015.0C1881.7 1019.2 1887.1 1031.7 1890.0 1040.0C1892.9 1048.3 1894.6 1057.5 1897.5 1065.0C1900.4 1072.5 1902.9 1078.3 1907.5 1085.0C1912.1 1091.7 1919.6 1099.6 1925.0 1105.0C1930.4 1110.4 1935.0 1114.2 1940.0 1117.5C1945.0 1120.8 1952.5 1123.8 1955.0 1125.0"/>
<path d="M1971.2 1035.0C1970.2 1037.5 1967.7 1044.2 1965.0 1050.0C1962.3 1055.8 1957.1 1063.3 1955.0 1070.0C1952.9 1076.7 1952.9 1086.7 1952.5 1090.0"/>
<path d="M2060.0 1097.5C2060.4 1099.6 2063.3 1105.4 2062.5 1110.0C2061.7 1114.6 2058.3 1120.8 2055.0 1125.0C2051.7 1129.2 2047.5 1132.1 2042.5 1135.0C2037.5 1137.9 2030.8 1140.4 2025.0 1142.5C2019.2 1144.6 2012.5 1144.6 2007.5 1147.5C2002.5 1150.4 1997.5 1155.4 1995.0 1160.0C1992.5 1164.6 1992.9 1172.5 1992.5 1175.0"/>
<path d="M2082.5 1040.0C2083.8 1042.5 2089.6 1049.6 2090.0 1055.0C2090.4 1060.4 2085.8 1069.6 2085.0 1072.5"/>
<path d="M1375.0 1017.5C1360.0 1012.5 1364.2 1025.8 1360.0 1030.0C1355.8 1034.2 1353.3 1039.2 1350.0 1042.5C1346.7 1045.8 1345.8 1047.9 1340.0 1050.0C1334.2 1052.1 1323.3 1053.8 1315.0 1055.0C1306.7 1056.2 1298.3 1056.9 1290.0 1057.5C1281.7 1058.1 1272.5 1058.8 1265.0 1058.8C1257.5 1058.8 1251.7 1059.0 1245.0 1057.5C1238.3 1056.0 1231.7 1052.5 1225.0 1050.0C1218.3 1047.5 1211.7 1045.4 1205.0 1042.5C1198.3 1039.6 1190.8 1035.8 1185.0 1032.5C1179.2 1029.2 1176.7 1024.6 1170.0 1022.5C1163.3 1020.4 1153.3 1021.2 1145.0 1020.0C1136.7 1018.8 1127.5 1017.5 1120.0 1015.0C1112.5 1012.5 1106.7 1008.3 1100.0 1005.0C1093.3 1001.7 1086.2 998.3 1080.0 995.0C1073.8 991.7 1067.1 989.2 1062.5 985.0C1057.9 980.8 1057.1 974.6 1052.5 970.0C1047.9 965.4 1040.0 962.5 1035.0 957.5C1030.0 952.5 1026.7 946.2 1022.5 940.0C1018.3 933.8 1013.8 926.2 1010.0 920.0C1006.2 913.8 1002.1 909.2 1000.0 902.5C997.9 895.8 999.6 887.1 997.5 880.0C995.4 872.9 991.2 866.7 987.5 860.0C983.8 853.3 977.7 846.7 975.0 840.0C972.3 833.3 971.2 827.5 971.2 820.0C971.2 812.5 975.2 803.3 975.0 795.0C974.8 786.7 970.2 777.9 970.0 770.0C969.8 762.1 971.2 758.3 973.8 747.5C976.2 736.7 981.5 718.8 985.0 705.0C988.5 691.2 992.1 674.2 995.0 665.0C997.9 655.8 997.9 657.9 1002.5 650.0C1007.1 642.1 1016.2 627.1 1022.5 617.5C1028.8 607.9 1033.8 599.6 1040.0 592.5C1046.2 585.4 1053.3 581.2 1060.0 575.0C1066.7 568.8 1074.2 562.5 1080.0 555.0C1085.8 547.5 1090.4 537.1 1095.0 530.0C1099.6 522.9 1101.7 516.0 1107.5 512.5C1113.3 509.0 1123.8 510.8 1130.0 508.8C1136.2 506.7 1139.2 503.5 1145.0 500.0C1150.8 496.5 1157.5 491.2 1165.0 487.5C1172.5 483.8 1182.5 482.1 1190.0 477.5C1197.5 472.9 1203.3 464.2 1210.0 460.0C1216.7 455.8 1221.7 454.4 1230.0 452.5C1238.3 450.6 1252.5 451.2 1260.0 448.8C1267.5 446.2 1268.3 441.0 1275.0 437.5C1281.7 434.0 1290.8 429.4 1300.0 427.5C1309.2 425.6 1320.8 428.8 1330.0 426.2C1339.2 423.8 1346.7 416.2 1355.0 412.5C1363.3 408.8 1370.0 405.4 1380.0 403.8C1390.0 402.1 1406.7 401.9 1415.0 402.5C1423.3 403.1 1424.6 405.0 1430.0 407.5C1435.4 410.0 1440.0 415.0 1447.5 417.5C1455.0 420.0 1465.8 421.5 1475.0 422.5C1484.2 423.5 1490.2 422.5 1502.5 423.8C1514.8 425.0 1537.1 428.3 1549.0 430.0C1560.9 431.7 1565.7 432.1 1574.0 433.8C1582.3 435.4 1590.7 436.9 1599.0 440.0C1607.3 443.1 1616.9 448.8 1624.0 452.5C1631.1 456.2 1634.4 459.6 1641.5 462.5C1648.6 465.4 1658.6 469.4 1666.5 470.0C1674.4 470.6 1679.4 466.5 1689.0 466.2C1698.6 466.0 1714.4 466.5 1724.0 468.8C1733.6 471.0 1739.4 476.5 1746.5 480.0C1753.6 483.5 1759.4 487.1 1766.5 490.0C1773.6 492.9 1781.9 493.8 1789.0 497.5C1796.1 501.2 1803.2 507.5 1809.0 512.5C1814.8 517.5 1818.2 523.3 1824.0 527.5C1829.8 531.7 1837.3 534.2 1844.0 537.5C1850.7 540.8 1857.3 545.0 1864.0 547.5C1870.7 550.0 1877.3 549.6 1884.0 552.5C1890.7 555.4 1898.6 560.0 1904.0 565.0C1909.4 570.0 1912.8 576.7 1916.5 582.5C1920.2 588.3 1922.8 593.8 1926.5 600.0C1930.2 606.2 1935.2 613.8 1939.0 620.0C1942.8 626.2 1944.0 632.5 1949.0 637.5C1954.0 642.5 1962.8 645.4 1969.0 650.0C1975.2 654.6 1981.5 659.2 1986.5 665.0C1991.5 670.8 1994.8 679.6 1999.0 685.0C2003.2 690.4 2007.3 693.8 2011.5 697.5C2015.7 701.2 2019.8 702.5 2024.0 707.5C2028.2 712.5 2033.0 722.9 2036.5 727.5C2040.0 732.1 2041.1 730.4 2045.0 735.0C2048.9 739.6 2055.8 747.9 2060.0 755.0C2064.2 762.1 2067.5 769.6 2070.0 777.5C2072.5 785.4 2072.1 794.6 2075.0 802.5C2077.9 810.4 2084.6 817.1 2087.5 825.0C2090.4 832.9 2090.8 841.7 2092.5 850.0C2094.2 858.3 2096.7 866.7 2097.5 875.0C2098.3 883.3 2097.1 892.5 2097.5 900.0C2097.9 907.5 2097.9 913.8 2100.0 920.0C2102.1 926.2 2106.7 931.7 2110.0 937.5C2113.3 943.3 2117.9 948.8 2120.0 955.0C2122.1 961.2 2122.5 968.3 2122.5 975.0C2122.5 981.7 2120.0 988.3 2120.0 995.0C2120.0 1001.7 2121.7 1010.8 2122.5 1015.0C2123.3 1019.2 2125.0 1015.8 2125.0 1020.0C2125.0 1024.2 2123.3 1033.3 2122.5 1040.0C2121.7 1046.7 2121.7 1053.3 2120.0 1060.0C2118.3 1066.7 2114.6 1073.3 2112.5 1080.0C2110.4 1086.7 2108.3 1093.3 2107.5 1100.0C2106.7 1106.7 2108.8 1113.3 2107.5 1120.0C2106.2 1126.7 2102.1 1133.3 2100.0 1140.0C2097.9 1146.7 2097.5 1153.3 2095.0 1160.0C2092.5 1166.7 2089.2 1174.2 2085.0 1180.0C2080.8 1185.8 2075.0 1190.4 2070.0 1195.0C2065.0 1199.6 2060.8 1204.2 2055.0 1207.5C2049.2 1210.8 2041.7 1212.9 2035.0 1215.0C2028.3 1217.1 2021.2 1219.4 2015.0 1220.0C2008.8 1220.6 2002.9 1220.4 1997.5 1218.8C1992.1 1217.1 1986.7 1214.0 1982.5 1210.0C1978.3 1206.0 1975.4 1200.8 1972.5 1195.0C1969.6 1189.2 1967.9 1181.7 1965.0 1175.0C1962.1 1168.3 1955.8 1159.2 1955.0 1155.0C1954.2 1150.8 1961.9 1153.6 1960.0 1150.0C1958.1 1146.4 1948.9 1138.9 1943.3 1133.3C1937.8 1127.8 1932.2 1121.7 1926.7 1116.7C1921.1 1111.7 1915.6 1107.5 1910.0 1103.3C1904.4 1099.2 1898.9 1095.6 1893.3 1091.7C1887.8 1087.8 1882.2 1084.2 1876.7 1080.0C1871.1 1075.8 1865.6 1071.7 1860.0 1066.7C1854.4 1061.7 1848.9 1054.7 1843.3 1050.0C1837.8 1045.3 1832.8 1041.9 1826.7 1038.3C1820.6 1034.7 1813.6 1030.8 1806.7 1028.3C1799.7 1025.8 1792.8 1025.3 1785.0 1023.3C1777.2 1021.4 1767.5 1018.1 1760.0 1016.7C1752.5 1015.3 1745.8 1015.0 1740.0 1015.0C1734.2 1015.0 1728.2 1016.3 1725.0 1016.7C1721.8 1017.0 1724.2 1019.1 1720.8 1017.0C1717.5 1014.9 1710.7 1008.5 1705.0 1004.2C1699.3 999.8 1691.4 994.4 1686.7 990.8C1681.9 987.2 1680.0 985.4 1676.7 982.5C1673.3 979.6 1679.4 963.8 1666.7 973.3C1653.9 982.9 1636.1 1025.6 1600.0 1040.0C1563.9 1054.4 1487.5 1063.8 1450.0 1060.0C1412.5 1056.2 1390.0 1022.5 1375.0 1017.5Z" stroke-width="16"/>
</g>
</g>
<path d="M1202.5 515.0C1204.6 517.1 1212.1 523.3 1215.0 527.5C1217.9 531.7 1217.5 536.2 1220.0 540.0C1222.5 543.8 1225.4 547.9 1230.0 550.0C1234.6 552.1 1244.6 552.1 1247.5 552.5" fill="none" stroke="#a9591f" stroke-width="4.6" stroke-linecap="round" stroke-linejoin="round"/>
<path d="M1260.0 472.5C1260.4 475.4 1260.4 484.2 1262.5 490.0C1264.6 495.8 1268.8 501.7 1272.5 507.5C1276.2 513.3 1282.7 519.6 1285.0 525.0C1287.3 530.4 1287.5 534.6 1286.2 540.0C1285.0 545.4 1281.0 552.5 1277.5 557.5C1274.0 562.5 1270.4 566.2 1265.0 570.0C1259.6 573.8 1250.4 575.4 1245.0 580.0C1239.6 584.6 1236.7 591.7 1232.5 597.5C1228.3 603.3 1224.6 611.0 1220.0 615.0C1215.4 619.0 1207.5 620.2 1205.0 621.2" fill="none" stroke="#a9591f" stroke-width="4.6" stroke-linecap="round" stroke-linejoin="round"/>
<path d="M1350.0 452.5C1348.8 456.2 1344.6 467.5 1342.5 475.0C1340.4 482.5 1337.1 490.4 1337.5 497.5C1337.9 504.6 1342.1 511.2 1345.0 517.5C1347.9 523.8 1354.2 529.2 1355.0 535.0C1355.8 540.8 1352.9 547.5 1350.0 552.5C1347.1 557.5 1339.6 562.9 1337.5 565.0" fill="none" stroke="#a9591f" stroke-width="4.6" stroke-linecap="round" stroke-linejoin="round"/>
<path d="M1402.5 495.0C1401.2 499.2 1396.0 510.0 1395.0 520.0C1394.0 530.0 1395.4 544.2 1396.2 555.0C1397.1 565.8 1399.8 575.4 1400.0 585.0C1400.2 594.6 1399.6 604.6 1397.5 612.5C1395.4 620.4 1391.2 627.5 1387.5 632.5C1383.8 637.5 1381.2 639.6 1375.0 642.5C1368.8 645.4 1360.0 647.5 1350.0 650.0C1340.0 652.5 1323.3 655.8 1315.0 657.5C1306.7 659.2 1304.2 657.9 1300.0 660.0C1295.8 662.1 1294.2 664.6 1290.0 670.0C1285.8 675.4 1280.4 687.5 1275.0 692.5C1269.6 697.5 1263.8 698.3 1257.5 700.0C1251.2 701.7 1243.8 701.2 1237.5 702.5C1231.2 703.8 1224.8 705.0 1220.0 707.5C1215.2 710.0 1210.6 715.8 1208.8 717.5" fill="none" stroke="#a9591f" stroke-width="4.6" stroke-linecap="round" stroke-linejoin="round"/>
<path d="M1497.5 448.8C1494.6 449.8 1485.0 450.6 1480.0 455.0C1475.0 459.4 1470.4 468.8 1467.5 475.0C1464.6 481.2 1465.0 487.1 1462.5 492.5C1460.0 497.9 1456.2 503.5 1452.5 507.5C1448.8 511.5 1442.1 514.8 1440.0 516.2" fill="none" stroke="#a9591f" stroke-width="4.6" stroke-linecap="round" stroke-linejoin="round"/>
<path d="M1549.0 505.0C1546.7 508.8 1540.7 521.7 1535.0 527.5C1529.3 533.3 1522.5 536.7 1515.0 540.0C1507.5 543.3 1496.7 545.0 1490.0 547.5C1483.3 550.0 1479.2 551.7 1475.0 555.0C1470.8 558.3 1469.2 564.4 1465.0 567.5C1460.8 570.6 1452.5 572.7 1450.0 573.8" fill="none" stroke="#a9591f" stroke-width="4.6" stroke-linecap="round" stroke-linejoin="round"/>
<path d="M1430.0 642.5C1433.8 644.2 1444.6 650.4 1452.5 652.5C1460.4 654.6 1467.1 655.0 1477.5 655.0C1487.9 655.0 1504.6 653.3 1515.0 652.5C1525.4 651.7 1535.8 650.4 1540.0 650.0" fill="none" stroke="#a9591f" stroke-width="4.6" stroke-linecap="round" stroke-linejoin="round"/>
<path d="M1125.0 612.5C1125.0 615.4 1124.2 623.8 1125.0 630.0C1125.8 636.2 1130.0 643.3 1130.0 650.0C1130.0 656.7 1127.5 664.2 1125.0 670.0C1122.5 675.8 1118.8 679.2 1115.0 685.0C1111.2 690.8 1105.0 698.3 1102.5 705.0C1100.0 711.7 1103.8 719.2 1100.0 725.0C1096.2 730.8 1086.7 736.2 1080.0 740.0C1073.3 743.8 1063.3 746.2 1060.0 747.5" fill="none" stroke="#a9591f" stroke-width="4.6" stroke-linecap="round" stroke-linejoin="round"/>
<path d="M1669.0 485.0C1668.6 488.3 1668.6 498.3 1666.5 505.0C1664.4 511.7 1660.2 518.3 1656.5 525.0C1652.8 531.7 1647.8 537.9 1644.0 545.0C1640.2 552.1 1635.7 560.4 1634.0 567.5C1632.3 574.6 1632.3 581.2 1634.0 587.5C1635.7 593.8 1642.3 602.1 1644.0 605.0" fill="none" stroke="#a9591f" stroke-width="4.6" stroke-linecap="round" stroke-linejoin="round"/>
<path d="M1549.0 498.8C1551.5 498.5 1558.2 498.1 1564.0 497.5C1569.8 496.9 1580.7 495.4 1584.0 495.0" fill="none" stroke="#a9591f" stroke-width="4.6" stroke-linecap="round" stroke-linejoin="round"/>
<path d="M1574.0 585.0C1576.9 587.1 1585.7 592.9 1591.5 597.5C1597.3 602.1 1603.2 607.5 1609.0 612.5C1614.8 617.5 1620.7 624.6 1626.5 627.5C1632.3 630.4 1636.9 630.8 1644.0 630.0C1651.1 629.2 1660.7 625.0 1669.0 622.5C1677.3 620.0 1685.7 617.1 1694.0 615.0C1702.3 612.9 1711.5 609.6 1719.0 610.0C1726.5 610.4 1732.8 614.6 1739.0 617.5C1745.2 620.4 1753.6 625.8 1756.5 627.5" fill="none" stroke="#a9591f" stroke-width="4.6" stroke-linecap="round" stroke-linejoin="round"/>
<path d="M1859.0 560.0C1859.8 563.3 1863.6 573.3 1864.0 580.0C1864.4 586.7 1863.2 593.8 1861.5 600.0C1859.8 606.2 1857.3 612.5 1854.0 617.5C1850.7 622.5 1845.7 625.8 1841.5 630.0C1837.3 634.2 1832.8 637.9 1829.0 642.5C1825.2 647.1 1821.9 652.1 1819.0 657.5C1816.1 662.9 1814.4 669.6 1811.5 675.0C1808.6 680.4 1805.2 685.8 1801.5 690.0C1797.8 694.2 1794.4 698.3 1789.0 700.0C1783.6 701.7 1775.7 701.2 1769.0 700.0C1762.3 698.8 1755.7 694.6 1749.0 692.5C1742.3 690.4 1735.7 687.9 1729.0 687.5C1722.3 687.1 1715.7 688.3 1709.0 690.0C1702.3 691.7 1695.7 694.2 1689.0 697.5C1682.3 700.8 1675.7 707.1 1669.0 710.0C1662.3 712.9 1655.7 715.0 1649.0 715.0C1642.3 715.0 1632.3 710.8 1629.0 710.0" fill="none" stroke="#a9591f" stroke-width="4.6" stroke-linecap="round" stroke-linejoin="round"/>
<path d="M1549.0 665.0C1551.5 666.7 1559.0 670.4 1564.0 675.0C1569.0 679.6 1573.2 686.7 1579.0 692.5C1584.8 698.3 1591.5 706.7 1599.0 710.0C1606.5 713.3 1619.8 712.1 1624.0 712.5" fill="none" stroke="#a9591f" stroke-width="4.6" stroke-linecap="round" stroke-linejoin="round"/>
<path d="M1939.0 657.5C1936.5 659.2 1927.8 662.5 1924.0 667.5C1920.2 672.5 1917.8 680.8 1916.5 687.5C1915.2 694.2 1917.8 700.8 1916.5 707.5C1915.2 714.2 1911.9 723.1 1909.0 727.5C1906.1 731.9 1900.7 732.7 1899.0 733.8" fill="none" stroke="#a9591f" stroke-width="4.6" stroke-linecap="round" stroke-linejoin="round"/>
<path d="M1206.7 728.3C1206.4 730.6 1206.9 736.7 1205.0 741.7C1203.1 746.7 1197.5 752.8 1195.0 758.3C1192.5 763.9 1191.1 769.2 1190.0 775.0C1188.9 780.8 1188.9 786.9 1188.3 793.3C1187.8 799.7 1187.2 806.7 1186.7 813.3C1186.1 820.0 1184.7 827.2 1185.0 833.3C1185.3 839.4 1186.7 845.3 1188.3 850.0C1190.0 854.7 1191.9 858.1 1195.0 861.7C1198.1 865.3 1201.9 868.6 1206.7 871.7C1211.4 874.7 1217.2 876.9 1223.3 880.0C1229.4 883.1 1236.1 886.9 1243.3 890.0C1250.6 893.1 1258.9 895.6 1266.7 898.3C1274.4 901.1 1281.9 903.9 1290.0 906.7C1298.1 909.4 1306.7 912.2 1315.0 915.0C1323.3 917.8 1331.7 920.3 1340.0 923.3C1348.3 926.4 1360.3 932.0 1365.0 933.3C1369.7 934.7 1366.2 929.4 1368.4 931.6C1370.7 933.8 1375.6 941.9 1378.5 946.7C1381.4 951.5 1383.9 955.1 1386.0 960.5C1388.1 965.9 1391.1 973.1 1391.1 979.3C1391.1 985.6 1387.7 993.0 1386.0 998.2C1384.4 1003.4 1381.8 1008.7 1381.0 1010.8" fill="none" stroke="#a9591f" stroke-width="4.6" stroke-linecap="round" stroke-linejoin="round"/>
<path d="M1080.0 830.0C1081.2 833.3 1085.0 843.3 1087.5 850.0C1090.0 856.7 1092.5 863.3 1095.0 870.0C1097.5 876.7 1099.2 884.2 1102.5 890.0C1105.8 895.8 1110.4 900.4 1115.0 905.0C1119.6 909.6 1124.2 914.2 1130.0 917.5C1135.8 920.8 1142.5 922.9 1150.0 925.0C1157.5 927.1 1167.5 928.3 1175.0 930.0C1182.5 931.7 1189.2 932.5 1195.0 935.0C1200.8 937.5 1205.4 941.2 1210.0 945.0C1214.6 948.8 1217.5 954.2 1222.5 957.5C1227.5 960.8 1232.9 963.3 1240.0 965.0C1247.1 966.7 1257.5 966.7 1265.0 967.5C1272.5 968.3 1280.4 967.9 1285.0 970.0C1289.6 972.1 1291.7 976.2 1292.5 980.0C1293.3 983.8 1292.5 988.8 1290.0 992.5C1287.5 996.2 1282.1 999.6 1277.5 1002.5C1272.9 1005.4 1268.8 1008.8 1262.5 1010.0C1256.2 1011.2 1246.2 1011.2 1240.0 1010.0C1233.8 1008.8 1227.5 1003.8 1225.0 1002.5" fill="none" stroke="#a9591f" stroke-width="4.6" stroke-linecap="round" stroke-linejoin="round"/>
<path d="M1100.0 960.0C1101.7 961.7 1106.7 966.2 1110.0 970.0C1113.3 973.8 1116.7 979.2 1120.0 982.5C1123.3 985.8 1128.3 988.8 1130.0 990.0" fill="none" stroke="#a9591f" stroke-width="4.6" stroke-linecap="round" stroke-linejoin="round"/>
<path d="M1330.0 1020.0C1331.2 1021.7 1337.1 1026.2 1337.5 1030.0C1337.9 1033.8 1333.3 1040.4 1332.5 1042.5" fill="none" stroke="#a9591f" stroke-width="4.6" stroke-linecap="round" stroke-linejoin="round"/>
<path d="M1655.0 755.0C1658.8 756.7 1669.2 762.5 1677.5 765.0C1685.8 767.5 1697.1 768.8 1705.0 770.0C1712.9 771.2 1719.2 770.0 1725.0 772.5C1730.8 775.0 1735.4 780.4 1740.0 785.0C1744.6 789.6 1747.5 795.4 1752.5 800.0C1757.5 804.6 1763.8 809.2 1770.0 812.5C1776.2 815.8 1783.3 817.5 1790.0 820.0C1796.7 822.5 1803.3 825.0 1810.0 827.5C1816.7 830.0 1823.3 833.3 1830.0 835.0C1836.7 836.7 1843.3 837.5 1850.0 837.5C1856.7 837.5 1863.3 836.7 1870.0 835.0C1876.7 833.3 1884.2 830.8 1890.0 827.5C1895.8 824.2 1901.2 820.0 1905.0 815.0C1908.8 810.0 1910.4 803.8 1912.5 797.5C1914.6 791.2 1916.7 780.8 1917.5 777.5" fill="none" stroke="#a9591f" stroke-width="4.6" stroke-linecap="round" stroke-linejoin="round"/>
<path d="M1802.5 740.0C1804.6 741.7 1809.6 749.2 1815.0 750.0C1820.4 750.8 1827.5 747.1 1835.0 745.0C1842.5 742.9 1851.7 739.6 1860.0 737.5C1868.3 735.4 1877.5 734.6 1885.0 732.5C1892.5 730.4 1901.7 726.2 1905.0 725.0" fill="none" stroke="#a9591f" stroke-width="4.6" stroke-linecap="round" stroke-linejoin="round"/>
<path d="M1940.0 760.0C1943.3 759.6 1953.3 758.8 1960.0 757.5C1966.7 756.2 1974.2 754.6 1980.0 752.5C1985.8 750.4 1991.7 747.9 1995.0 745.0C1998.3 742.1 1999.2 736.7 2000.0 735.0" fill="none" stroke="#a9591f" stroke-width="4.6" stroke-linecap="round" stroke-linejoin="round"/>
<path d="M1925.0 792.5C1927.5 794.2 1934.2 800.2 1940.0 802.5C1945.8 804.8 1954.2 805.0 1960.0 806.2C1965.8 807.5 1971.2 806.9 1975.0 810.0C1978.8 813.1 1980.8 820.4 1982.5 825.0C1984.2 829.6 1984.6 835.4 1985.0 837.5" fill="none" stroke="#a9591f" stroke-width="4.6" stroke-linecap="round" stroke-linejoin="round"/>
<path d="M2050.0 820.0C2047.5 821.7 2040.8 827.1 2035.0 830.0C2029.2 832.9 2021.7 834.6 2015.0 837.5C2008.3 840.4 2000.4 843.8 1995.0 847.5C1989.6 851.2 1985.8 855.4 1982.5 860.0C1979.2 864.6 1977.5 870.0 1975.0 875.0C1972.5 880.0 1969.6 885.0 1967.5 890.0C1965.4 895.0 1965.4 900.4 1962.5 905.0C1959.6 909.6 1954.6 913.3 1950.0 917.5C1945.4 921.7 1939.6 926.2 1935.0 930.0C1930.4 933.8 1926.2 937.5 1922.5 940.0C1918.8 942.5 1914.2 944.2 1912.5 945.0" fill="none" stroke="#a9591f" stroke-width="4.6" stroke-linecap="round" stroke-linejoin="round"/>
<path d="M1910.0 857.5C1909.6 860.4 1909.2 869.2 1907.5 875.0C1905.8 880.8 1902.9 887.1 1900.0 892.5C1897.1 897.9 1894.2 903.3 1890.0 907.5C1885.8 911.7 1880.8 915.0 1875.0 917.5C1869.2 920.0 1861.7 920.8 1855.0 922.5C1848.3 924.2 1841.7 926.7 1835.0 927.5C1828.3 928.3 1821.7 926.7 1815.0 927.5C1808.3 928.3 1799.6 930.4 1795.0 932.5C1790.4 934.6 1789.6 935.8 1787.5 940.0C1785.4 944.2 1785.4 952.5 1782.5 957.5C1779.6 962.5 1774.2 965.8 1770.0 970.0C1765.8 974.2 1759.6 980.4 1757.5 982.5" fill="none" stroke="#a9591f" stroke-width="4.6" stroke-linecap="round" stroke-linejoin="round"/>
<path d="M2002.5 900.0C2002.9 903.3 2005.4 913.3 2005.0 920.0C2004.6 926.7 2000.4 933.3 2000.0 940.0C1999.6 946.7 2002.9 953.3 2002.5 960.0C2002.1 966.7 1999.6 973.8 1997.5 980.0C1995.4 986.2 1992.9 991.7 1990.0 997.5C1987.1 1003.3 1983.3 1009.6 1980.0 1015.0C1976.7 1020.4 1971.2 1025.8 1970.0 1030.0C1968.8 1034.2 1972.1 1038.3 1972.5 1040.0" fill="none" stroke="#a9591f" stroke-width="4.6" stroke-linecap="round" stroke-linejoin="round"/>
<path d="M1972.5 1037.5C1975.4 1038.3 1983.8 1042.1 1990.0 1042.5C1996.2 1042.9 2003.3 1041.7 2010.0 1040.0C2016.7 1038.3 2024.2 1035.0 2030.0 1032.5C2035.8 1030.0 2040.0 1029.2 2045.0 1025.0C2050.0 1020.8 2056.7 1013.3 2060.0 1007.5C2063.3 1001.7 2063.8 994.2 2065.0 990.0C2066.2 985.8 2067.1 983.8 2067.5 982.5" fill="none" stroke="#a9591f" stroke-width="4.6" stroke-linecap="round" stroke-linejoin="round"/>
<path d="M1790.0 1002.5C1794.2 1001.2 1806.7 997.1 1815.0 995.0C1823.3 992.9 1833.8 990.4 1840.0 990.0C1846.2 989.6 1850.4 992.1 1852.5 992.5" fill="none" stroke="#a9591f" stroke-width="4.6" stroke-linecap="round" stroke-linejoin="round"/>
<path d="M1935.0 1010.0C1934.2 1012.1 1933.3 1019.6 1930.0 1022.5C1926.7 1025.4 1920.0 1026.2 1915.0 1027.5C1910.0 1028.8 1902.5 1029.6 1900.0 1030.0" fill="none" stroke="#a9591f" stroke-width="4.6" stroke-linecap="round" stroke-linejoin="round"/>
<path d="M1880.0 1015.0C1881.7 1019.2 1887.1 1031.7 1890.0 1040.0C1892.9 1048.3 1894.6 1057.5 1897.5 1065.0C1900.4 1072.5 1902.9 1078.3 1907.5 1085.0C1912.1 1091.7 1919.6 1099.6 1925.0 1105.0C1930.4 1110.4 1935.0 1114.2 1940.0 1117.5C1945.0 1120.8 1952.5 1123.8 1955.0 1125.0" fill="none" stroke="#a9591f" stroke-width="4.6" stroke-linecap="round" stroke-linejoin="round"/>
<path d="M1971.2 1035.0C1970.2 1037.5 1967.7 1044.2 1965.0 1050.0C1962.3 1055.8 1957.1 1063.3 1955.0 1070.0C1952.9 1076.7 1952.9 1086.7 1952.5 1090.0" fill="none" stroke="#a9591f" stroke-width="4.6" stroke-linecap="round" stroke-linejoin="round"/>
<path d="M2060.0 1097.5C2060.4 1099.6 2063.3 1105.4 2062.5 1110.0C2061.7 1114.6 2058.3 1120.8 2055.0 1125.0C2051.7 1129.2 2047.5 1132.1 2042.5 1135.0C2037.5 1137.9 2030.8 1140.4 2025.0 1142.5C2019.2 1144.6 2012.5 1144.6 2007.5 1147.5C2002.5 1150.4 1997.5 1155.4 1995.0 1160.0C1992.5 1164.6 1992.9 1172.5 1992.5 1175.0" fill="none" stroke="#a9591f" stroke-width="4.6" stroke-linecap="round" stroke-linejoin="round"/>
<path d="M2082.5 1040.0C2083.8 1042.5 2089.6 1049.6 2090.0 1055.0C2090.4 1060.4 2085.8 1069.6 2085.0 1072.5" fill="none" stroke="#a9591f" stroke-width="4.6" stroke-linecap="round" stroke-linejoin="round"/>
<path d="M1375.0 1017.5C1360.0 1012.5 1364.2 1025.8 1360.0 1030.0C1355.8 1034.2 1353.3 1039.2 1350.0 1042.5C1346.7 1045.8 1345.8 1047.9 1340.0 1050.0C1334.2 1052.1 1323.3 1053.8 1315.0 1055.0C1306.7 1056.2 1298.3 1056.9 1290.0 1057.5C1281.7 1058.1 1272.5 1058.8 1265.0 1058.8C1257.5 1058.8 1251.7 1059.0 1245.0 1057.5C1238.3 1056.0 1231.7 1052.5 1225.0 1050.0C1218.3 1047.5 1211.7 1045.4 1205.0 1042.5C1198.3 1039.6 1190.8 1035.8 1185.0 1032.5C1179.2 1029.2 1176.7 1024.6 1170.0 1022.5C1163.3 1020.4 1153.3 1021.2 1145.0 1020.0C1136.7 1018.8 1127.5 1017.5 1120.0 1015.0C1112.5 1012.5 1106.7 1008.3 1100.0 1005.0C1093.3 1001.7 1086.2 998.3 1080.0 995.0C1073.8 991.7 1067.1 989.2 1062.5 985.0C1057.9 980.8 1057.1 974.6 1052.5 970.0C1047.9 965.4 1040.0 962.5 1035.0 957.5C1030.0 952.5 1026.7 946.2 1022.5 940.0C1018.3 933.8 1013.8 926.2 1010.0 920.0C1006.2 913.8 1002.1 909.2 1000.0 902.5C997.9 895.8 999.6 887.1 997.5 880.0C995.4 872.9 991.2 866.7 987.5 860.0C983.8 853.3 977.7 846.7 975.0 840.0C972.3 833.3 971.2 827.5 971.2 820.0C971.2 812.5 975.2 803.3 975.0 795.0C974.8 786.7 970.2 777.9 970.0 770.0C969.8 762.1 971.2 758.3 973.8 747.5C976.2 736.7 981.5 718.8 985.0 705.0C988.5 691.2 992.1 674.2 995.0 665.0C997.9 655.8 997.9 657.9 1002.5 650.0C1007.1 642.1 1016.2 627.1 1022.5 617.5C1028.8 607.9 1033.8 599.6 1040.0 592.5C1046.2 585.4 1053.3 581.2 1060.0 575.0C1066.7 568.8 1074.2 562.5 1080.0 555.0C1085.8 547.5 1090.4 537.1 1095.0 530.0C1099.6 522.9 1101.7 516.0 1107.5 512.5C1113.3 509.0 1123.8 510.8 1130.0 508.8C1136.2 506.7 1139.2 503.5 1145.0 500.0C1150.8 496.5 1157.5 491.2 1165.0 487.5C1172.5 483.8 1182.5 482.1 1190.0 477.5C1197.5 472.9 1203.3 464.2 1210.0 460.0C1216.7 455.8 1221.7 454.4 1230.0 452.5C1238.3 450.6 1252.5 451.2 1260.0 448.8C1267.5 446.2 1268.3 441.0 1275.0 437.5C1281.7 434.0 1290.8 429.4 1300.0 427.5C1309.2 425.6 1320.8 428.8 1330.0 426.2C1339.2 423.8 1346.7 416.2 1355.0 412.5C1363.3 408.8 1370.0 405.4 1380.0 403.8C1390.0 402.1 1406.7 401.9 1415.0 402.5C1423.3 403.1 1424.6 405.0 1430.0 407.5C1435.4 410.0 1440.0 415.0 1447.5 417.5C1455.0 420.0 1465.8 421.5 1475.0 422.5C1484.2 423.5 1490.2 422.5 1502.5 423.8C1514.8 425.0 1537.1 428.3 1549.0 430.0C1560.9 431.7 1565.7 432.1 1574.0 433.8C1582.3 435.4 1590.7 436.9 1599.0 440.0C1607.3 443.1 1616.9 448.8 1624.0 452.5C1631.1 456.2 1634.4 459.6 1641.5 462.5C1648.6 465.4 1658.6 469.4 1666.5 470.0C1674.4 470.6 1679.4 466.5 1689.0 466.2C1698.6 466.0 1714.4 466.5 1724.0 468.8C1733.6 471.0 1739.4 476.5 1746.5 480.0C1753.6 483.5 1759.4 487.1 1766.5 490.0C1773.6 492.9 1781.9 493.8 1789.0 497.5C1796.1 501.2 1803.2 507.5 1809.0 512.5C1814.8 517.5 1818.2 523.3 1824.0 527.5C1829.8 531.7 1837.3 534.2 1844.0 537.5C1850.7 540.8 1857.3 545.0 1864.0 547.5C1870.7 550.0 1877.3 549.6 1884.0 552.5C1890.7 555.4 1898.6 560.0 1904.0 565.0C1909.4 570.0 1912.8 576.7 1916.5 582.5C1920.2 588.3 1922.8 593.8 1926.5 600.0C1930.2 606.2 1935.2 613.8 1939.0 620.0C1942.8 626.2 1944.0 632.5 1949.0 637.5C1954.0 642.5 1962.8 645.4 1969.0 650.0C1975.2 654.6 1981.5 659.2 1986.5 665.0C1991.5 670.8 1994.8 679.6 1999.0 685.0C2003.2 690.4 2007.3 693.8 2011.5 697.5C2015.7 701.2 2019.8 702.5 2024.0 707.5C2028.2 712.5 2033.0 722.9 2036.5 727.5C2040.0 732.1 2041.1 730.4 2045.0 735.0C2048.9 739.6 2055.8 747.9 2060.0 755.0C2064.2 762.1 2067.5 769.6 2070.0 777.5C2072.5 785.4 2072.1 794.6 2075.0 802.5C2077.9 810.4 2084.6 817.1 2087.5 825.0C2090.4 832.9 2090.8 841.7 2092.5 850.0C2094.2 858.3 2096.7 866.7 2097.5 875.0C2098.3 883.3 2097.1 892.5 2097.5 900.0C2097.9 907.5 2097.9 913.8 2100.0 920.0C2102.1 926.2 2106.7 931.7 2110.0 937.5C2113.3 943.3 2117.9 948.8 2120.0 955.0C2122.1 961.2 2122.5 968.3 2122.5 975.0C2122.5 981.7 2120.0 988.3 2120.0 995.0C2120.0 1001.7 2121.7 1010.8 2122.5 1015.0C2123.3 1019.2 2125.0 1015.8 2125.0 1020.0C2125.0 1024.2 2123.3 1033.3 2122.5 1040.0C2121.7 1046.7 2121.7 1053.3 2120.0 1060.0C2118.3 1066.7 2114.6 1073.3 2112.5 1080.0C2110.4 1086.7 2108.3 1093.3 2107.5 1100.0C2106.7 1106.7 2108.8 1113.3 2107.5 1120.0C2106.2 1126.7 2102.1 1133.3 2100.0 1140.0C2097.9 1146.7 2097.5 1153.3 2095.0 1160.0C2092.5 1166.7 2089.2 1174.2 2085.0 1180.0C2080.8 1185.8 2075.0 1190.4 2070.0 1195.0C2065.0 1199.6 2060.8 1204.2 2055.0 1207.5C2049.2 1210.8 2041.7 1212.9 2035.0 1215.0C2028.3 1217.1 2021.2 1219.4 2015.0 1220.0C2008.8 1220.6 2002.9 1220.4 1997.5 1218.8C1992.1 1217.1 1986.7 1214.0 1982.5 1210.0C1978.3 1206.0 1975.4 1200.8 1972.5 1195.0C1969.6 1189.2 1967.9 1181.7 1965.0 1175.0C1962.1 1168.3 1955.8 1159.2 1955.0 1155.0C1954.2 1150.8 1961.9 1153.6 1960.0 1150.0C1958.1 1146.4 1948.9 1138.9 1943.3 1133.3C1937.8 1127.8 1932.2 1121.7 1926.7 1116.7C1921.1 1111.7 1915.6 1107.5 1910.0 1103.3C1904.4 1099.2 1898.9 1095.6 1893.3 1091.7C1887.8 1087.8 1882.2 1084.2 1876.7 1080.0C1871.1 1075.8 1865.6 1071.7 1860.0 1066.7C1854.4 1061.7 1848.9 1054.7 1843.3 1050.0C1837.8 1045.3 1832.8 1041.9 1826.7 1038.3C1820.6 1034.7 1813.6 1030.8 1806.7 1028.3C1799.7 1025.8 1792.8 1025.3 1785.0 1023.3C1777.2 1021.4 1767.5 1018.1 1760.0 1016.7C1752.5 1015.3 1745.8 1015.0 1740.0 1015.0C1734.2 1015.0 1728.2 1016.3 1725.0 1016.7C1721.8 1017.0 1724.2 1019.1 1720.8 1017.0C1717.5 1014.9 1710.7 1008.5 1705.0 1004.2C1699.3 999.8 1691.4 994.4 1686.7 990.8C1681.9 987.2 1680.0 985.4 1676.7 982.5C1673.3 979.6 1679.4 963.8 1666.7 973.3C1653.9 982.9 1636.1 1025.6 1600.0 1040.0C1563.9 1054.4 1487.5 1063.8 1450.0 1060.0C1412.5 1056.2 1390.0 1022.5 1375.0 1017.5Z" fill="none" stroke="#a9591f" stroke-width="5.6" stroke-linejoin="round"/>
</g>
<path d="M1525.0 1402.5C1527.5 1400.8 1538.3 1407.7 1545.0 1410.0C1551.7 1412.3 1558.3 1414.2 1565.0 1416.2C1571.7 1418.3 1579.2 1421.0 1585.0 1422.5C1590.8 1424.0 1595.8 1425.0 1600.0 1425.0C1604.2 1425.0 1608.5 1418.3 1610.0 1422.5C1611.5 1426.7 1609.2 1441.2 1608.8 1450.0C1608.3 1458.8 1607.3 1466.7 1607.5 1475.0C1607.7 1483.3 1609.0 1491.7 1610.0 1500.0C1611.0 1508.3 1612.5 1516.7 1613.8 1525.0C1615.0 1533.3 1616.0 1541.7 1617.5 1550.0C1619.0 1558.3 1620.6 1566.7 1622.5 1575.0C1624.4 1583.3 1626.7 1593.1 1628.8 1600.0C1630.8 1606.9 1634.8 1613.3 1635.0 1616.2C1635.2 1619.2 1632.1 1616.2 1630.0 1617.5C1627.9 1618.8 1625.8 1621.7 1622.5 1623.8C1619.2 1625.8 1614.6 1628.3 1610.0 1630.0C1605.4 1631.7 1600.0 1633.3 1595.0 1633.8C1590.0 1634.2 1584.6 1634.0 1580.0 1632.5C1575.4 1631.0 1570.8 1628.8 1567.5 1625.0C1564.2 1621.2 1562.1 1615.8 1560.0 1610.0C1557.9 1604.2 1556.2 1597.5 1555.0 1590.0C1553.8 1582.5 1553.3 1573.3 1552.5 1565.0C1551.7 1556.7 1550.6 1548.3 1550.0 1540.0C1549.4 1531.7 1549.4 1523.3 1548.8 1515.0C1548.1 1506.7 1547.3 1498.3 1546.2 1490.0C1545.2 1481.7 1544.0 1473.3 1542.5 1465.0C1541.0 1456.7 1539.6 1447.5 1537.5 1440.0C1535.4 1432.5 1532.1 1426.2 1530.0 1420.0C1527.9 1413.8 1522.5 1404.2 1525.0 1402.5Z" fill="#cbe9da" stroke="#cbe9da" stroke-width="4" stroke-linejoin="round"/>
<path d="M1640.0 1350.0C1642.1 1354.2 1636.6 1365.8 1635.0 1375.0C1633.4 1384.2 1631.7 1396.7 1630.5 1405.0C1629.3 1413.3 1628.4 1417.5 1628.0 1425.0C1627.6 1432.5 1627.8 1441.7 1628.0 1450.0C1628.2 1458.3 1628.4 1466.7 1629.2 1475.0C1630.1 1483.3 1631.5 1491.7 1633.0 1500.0C1634.5 1508.3 1636.1 1516.7 1638.0 1525.0C1639.9 1533.3 1642.4 1542.5 1644.2 1550.0C1646.1 1557.5 1648.3 1564.2 1649.2 1570.0C1650.2 1575.8 1650.7 1580.0 1650.0 1585.0C1649.3 1590.0 1646.7 1595.4 1645.0 1600.0C1643.3 1604.6 1641.5 1609.7 1640.0 1612.5C1638.5 1615.3 1637.7 1619.1 1636.2 1617.0C1634.8 1614.9 1633.1 1607.0 1631.2 1600.0C1629.4 1593.0 1626.9 1583.3 1625.0 1575.0C1623.1 1566.7 1621.7 1558.3 1620.0 1550.0C1618.3 1541.7 1616.5 1533.3 1615.0 1525.0C1613.5 1516.7 1612.3 1508.3 1611.2 1500.0C1610.2 1491.7 1609.0 1483.3 1608.8 1475.0C1608.5 1466.7 1609.4 1460.4 1610.0 1450.0C1610.6 1439.6 1611.2 1425.0 1612.5 1412.5C1613.8 1400.0 1615.8 1385.4 1617.5 1375.0C1619.2 1364.6 1618.8 1354.2 1622.5 1350.0C1626.2 1345.8 1637.9 1345.8 1640.0 1350.0Z" fill="#62a7ba"/>
<path d="M1502.5 1130.0C1497.1 1124.2 1496.2 1135.4 1492.5 1140.0C1488.8 1144.6 1483.8 1151.7 1480.0 1157.5C1476.2 1163.3 1472.9 1167.9 1470.0 1175.0C1467.1 1182.1 1464.6 1191.7 1462.5 1200.0C1460.4 1208.3 1458.3 1216.7 1457.5 1225.0C1456.7 1233.3 1456.7 1241.7 1457.5 1250.0C1458.3 1258.3 1460.0 1267.5 1462.5 1275.0C1465.0 1282.5 1468.8 1289.2 1472.5 1295.0C1476.2 1300.8 1480.8 1305.4 1485.0 1310.0C1489.2 1314.6 1493.5 1319.8 1497.5 1322.5C1501.5 1325.2 1504.6 1327.5 1508.8 1326.2C1512.9 1325.0 1518.1 1319.4 1522.5 1315.0C1526.9 1310.6 1530.4 1306.7 1535.0 1300.0C1539.6 1293.3 1551.7 1295.8 1550.0 1275.0C1548.3 1254.2 1532.9 1199.2 1525.0 1175.0C1517.1 1150.8 1507.9 1135.8 1502.5 1130.0Z" fill="#ead9a8" stroke="#ead9a8" stroke-width="4" stroke-linejoin="round"/>
<path d="M1636.2 1153.8C1634.5 1151.2 1630.2 1156.9 1625.0 1160.0C1619.8 1163.1 1611.7 1168.3 1605.0 1172.5C1598.3 1176.7 1590.8 1180.4 1585.0 1185.0C1579.2 1189.6 1573.3 1194.2 1570.0 1200.0C1566.7 1205.8 1566.2 1213.3 1565.0 1220.0C1563.8 1226.7 1563.8 1233.3 1562.5 1240.0C1561.2 1246.7 1559.6 1254.2 1557.5 1260.0C1555.4 1265.8 1553.3 1270.4 1550.0 1275.0C1546.7 1279.6 1540.4 1283.3 1537.5 1287.5C1534.6 1291.7 1535.4 1295.4 1532.5 1300.0C1529.6 1304.6 1524.1 1310.8 1520.0 1315.0C1515.9 1319.2 1510.3 1320.0 1508.0 1325.0C1505.7 1330.0 1506.3 1343.8 1506.2 1345.0C1506.2 1346.2 1507.3 1331.7 1507.5 1332.5C1507.7 1333.3 1506.7 1343.3 1507.5 1350.0C1508.3 1356.7 1510.4 1365.8 1512.5 1372.5C1514.6 1379.2 1517.9 1385.0 1520.0 1390.0C1522.1 1395.0 1520.8 1399.2 1525.0 1402.5C1529.2 1405.8 1538.3 1407.7 1545.0 1410.0C1551.7 1412.3 1558.3 1414.2 1565.0 1416.2C1571.7 1418.3 1579.2 1421.0 1585.0 1422.5C1590.8 1424.0 1595.6 1425.1 1600.0 1425.0C1604.4 1424.9 1609.0 1426.2 1611.2 1422.0C1613.5 1417.8 1612.7 1407.8 1613.8 1400.0C1614.8 1392.2 1616.5 1383.3 1617.5 1375.0C1618.5 1366.7 1619.2 1358.3 1620.0 1350.0C1620.8 1341.7 1621.7 1333.3 1622.5 1325.0C1623.3 1316.7 1623.8 1304.2 1625.0 1300.0C1626.2 1295.8 1628.8 1304.2 1630.0 1300.0C1631.2 1295.8 1631.6 1283.3 1632.5 1275.0C1633.4 1266.7 1635.0 1258.3 1635.5 1250.0C1636.0 1241.7 1635.7 1233.3 1635.5 1225.0C1635.3 1216.7 1634.2 1208.3 1634.2 1200.0C1634.2 1191.7 1635.2 1182.7 1635.5 1175.0C1635.8 1167.3 1638.0 1156.2 1636.2 1153.8Z" fill="#f2cc3d" stroke="#f2cc3d" stroke-width="2" stroke-linejoin="round"/>
<path d="M1395.0 1043.8C1397.1 1037.1 1405.4 1038.1 1412.5 1035.0C1419.6 1031.9 1429.2 1027.9 1437.5 1025.0C1445.8 1022.1 1454.2 1019.6 1462.5 1017.5C1470.8 1015.4 1479.2 1013.5 1487.5 1012.5C1495.8 1011.5 1504.2 1011.2 1512.5 1011.2C1520.8 1011.2 1529.2 1011.2 1537.5 1012.5C1545.8 1013.8 1555.0 1016.2 1562.5 1018.8C1570.0 1021.2 1576.7 1024.0 1582.5 1027.5C1588.3 1031.0 1592.9 1035.0 1597.5 1040.0C1602.1 1045.0 1606.2 1050.8 1610.0 1057.5C1613.8 1064.2 1617.1 1072.1 1620.0 1080.0C1622.9 1087.9 1625.4 1096.7 1627.5 1105.0C1629.6 1113.3 1631.0 1122.1 1632.5 1130.0C1634.0 1137.9 1637.5 1147.5 1636.2 1152.5C1635.0 1157.5 1630.2 1156.7 1625.0 1160.0C1619.8 1163.3 1611.7 1168.3 1605.0 1172.5C1598.3 1176.7 1590.8 1180.4 1585.0 1185.0C1579.2 1189.6 1573.3 1194.2 1570.0 1200.0C1566.7 1205.8 1566.2 1213.3 1565.0 1220.0C1563.8 1226.7 1563.8 1233.3 1562.5 1240.0C1561.2 1246.7 1559.6 1254.2 1557.5 1260.0C1555.4 1265.8 1553.3 1270.4 1550.0 1275.0C1546.7 1279.6 1542.1 1284.2 1537.5 1287.5C1532.9 1290.8 1527.1 1293.3 1522.5 1295.0C1517.9 1296.7 1513.8 1298.3 1510.0 1297.5C1506.2 1296.7 1502.5 1293.8 1500.0 1290.0C1497.5 1286.2 1496.2 1280.8 1495.0 1275.0C1493.8 1269.2 1492.5 1261.7 1492.5 1255.0C1492.5 1248.3 1493.8 1241.7 1495.0 1235.0C1496.2 1228.3 1497.9 1221.7 1500.0 1215.0C1502.1 1208.3 1505.4 1201.7 1507.5 1195.0C1509.6 1188.3 1512.1 1181.7 1512.5 1175.0C1512.9 1168.3 1511.5 1161.7 1510.0 1155.0C1508.5 1148.3 1505.0 1142.1 1503.8 1135.0C1502.5 1127.9 1504.0 1119.6 1502.5 1112.5C1501.0 1105.4 1497.9 1098.3 1495.0 1092.5C1492.1 1086.7 1489.2 1081.9 1485.0 1077.5C1480.8 1073.1 1475.8 1069.2 1470.0 1066.2C1464.2 1063.3 1456.7 1061.2 1450.0 1060.0C1443.3 1058.8 1436.7 1057.9 1430.0 1058.8C1423.3 1059.6 1415.0 1062.3 1410.0 1065.0C1405.0 1067.7 1402.5 1078.5 1400.0 1075.0C1397.5 1071.5 1392.9 1050.4 1395.0 1043.8Z" fill="#eee3e7"/>
<path d="M1450.0 1047.5C1455.0 1048.8 1471.7 1050.4 1480.0 1055.0C1488.3 1059.6 1494.6 1066.7 1500.0 1075.0C1505.4 1083.3 1507.5 1095.8 1512.5 1105.0C1517.5 1114.2 1523.8 1121.7 1530.0 1130.0C1536.2 1138.3 1545.0 1145.8 1550.0 1155.0C1555.0 1164.2 1558.3 1175.0 1560.0 1185.0C1561.7 1195.0 1560.0 1210.0 1560.0 1215.0" fill="none" stroke="#f7f3f4" stroke-width="22" stroke-linecap="round" filter="url(#b3)"/>
<path d="M1665.0 970.8C1667.2 970.5 1673.1 978.2 1676.7 981.3C1680.3 984.5 1681.9 986.1 1686.7 989.7C1691.4 993.3 1699.2 998.5 1705.0 1003.0C1710.8 1007.5 1721.1 1012.7 1721.3 1016.7C1721.6 1020.6 1711.3 1023.1 1706.7 1026.7C1702.0 1030.3 1697.8 1033.9 1693.3 1038.3C1688.9 1042.8 1684.2 1048.6 1680.0 1053.3C1675.8 1058.1 1671.7 1062.6 1668.3 1066.7C1665.0 1070.8 1663.1 1078.0 1660.0 1078.0C1656.9 1078.0 1652.8 1071.3 1650.0 1066.7C1647.2 1062.0 1644.4 1055.6 1643.3 1050.0C1642.2 1044.4 1642.2 1038.9 1643.3 1033.3C1644.4 1027.8 1647.2 1022.2 1650.0 1016.7C1652.8 1011.1 1657.8 1005.6 1660.0 1000.0C1662.2 994.4 1662.5 988.2 1663.3 983.3C1664.2 978.5 1662.8 971.2 1665.0 970.8Z" fill="#4a302d"/>
<path d="M1442.5 870.0C1443.1 866.2 1446.2 864.0 1450.0 862.5C1453.8 861.0 1458.3 860.8 1465.0 861.2C1471.7 861.7 1481.7 863.1 1490.0 865.0C1498.3 866.9 1506.7 869.6 1515.0 872.5C1523.3 875.4 1531.7 878.8 1540.0 882.5C1548.3 886.2 1556.7 890.8 1565.0 895.0C1573.3 899.2 1581.7 902.5 1590.0 907.5C1598.3 912.5 1607.5 918.8 1615.0 925.0C1622.5 931.2 1629.2 938.8 1635.0 945.0C1640.8 951.2 1645.0 957.5 1650.0 962.5C1655.0 967.5 1661.2 970.4 1665.0 975.0C1668.8 979.6 1671.7 985.4 1672.5 990.0C1673.3 994.6 1672.1 998.8 1670.0 1002.5C1667.9 1006.2 1663.3 1008.8 1660.0 1012.5C1656.7 1016.2 1652.1 1019.6 1650.0 1025.0C1647.9 1030.4 1647.1 1038.3 1647.5 1045.0C1647.9 1051.7 1650.0 1059.2 1652.5 1065.0C1655.0 1070.8 1660.4 1077.1 1662.5 1080.0C1664.6 1082.9 1664.6 1078.3 1665.0 1082.5C1665.4 1086.7 1664.6 1097.9 1665.0 1105.0C1665.4 1112.1 1666.2 1118.3 1667.5 1125.0C1668.8 1131.7 1670.8 1138.3 1672.5 1145.0C1674.2 1151.7 1675.4 1158.3 1677.5 1165.0C1679.6 1171.7 1683.1 1179.2 1685.0 1185.0C1686.9 1190.8 1689.2 1194.6 1688.8 1200.0C1688.3 1205.4 1684.8 1213.8 1682.5 1217.5C1680.2 1221.2 1677.9 1227.1 1675.0 1222.5C1672.1 1217.9 1669.2 1204.6 1665.0 1190.0C1660.8 1175.4 1656.7 1155.8 1650.0 1135.0C1643.3 1114.2 1633.3 1086.2 1625.0 1065.0C1616.7 1043.8 1604.2 1017.1 1600.0 1007.5C1595.8 997.9 1601.7 1017.9 1600.0 1007.5C1598.3 997.1 1600.0 962.9 1590.0 945.0C1580.0 927.1 1556.7 910.4 1540.0 900.0C1523.3 889.6 1504.2 885.0 1490.0 882.5C1475.8 880.0 1462.3 884.6 1455.0 885.0C1447.7 885.4 1448.3 887.5 1446.2 885.0C1444.2 882.5 1441.9 873.8 1442.5 870.0Z" fill="#6ec0c8" stroke="#6ec0c8" stroke-width="3" stroke-linejoin="round"/>
<path d="M1660.0 998.3C1663.4 995.1 1672.0 992.8 1675.0 994.2C1678.0 995.6 1678.0 1002.6 1678.0 1006.7C1678.0 1010.8 1677.4 1015.2 1675.0 1018.7C1672.6 1022.1 1667.1 1026.0 1663.3 1027.5C1659.6 1029.0 1653.9 1029.9 1652.5 1027.5C1651.1 1025.1 1653.4 1018.2 1654.7 1013.3C1655.9 1008.5 1656.6 1001.5 1660.0 998.3Z" fill="#d4584a"/>
<path d="M1452.5 880.0C1454.6 877.5 1458.8 875.6 1465.0 875.0C1471.2 874.4 1481.7 874.8 1490.0 876.2C1498.3 877.7 1506.7 880.8 1515.0 883.8C1523.3 886.7 1531.7 890.0 1540.0 893.8C1548.3 897.5 1557.5 901.9 1565.0 906.2C1572.5 910.6 1579.2 915.2 1585.0 920.0C1590.8 924.8 1595.4 929.6 1600.0 935.0C1604.6 940.4 1609.2 946.7 1612.5 952.5C1615.8 958.3 1619.2 964.6 1620.0 970.0C1620.8 975.4 1619.6 980.4 1617.5 985.0C1615.4 989.6 1610.4 993.8 1607.5 997.5C1604.6 1001.2 1600.8 1003.3 1600.0 1007.5C1599.2 1011.7 1601.7 1019.6 1602.5 1022.5C1603.3 1025.4 1602.9 1021.2 1605.0 1025.0C1607.1 1028.8 1611.7 1038.3 1615.0 1045.0C1618.3 1051.7 1621.7 1058.3 1625.0 1065.0C1628.3 1071.7 1632.1 1078.3 1635.0 1085.0C1637.9 1091.7 1640.4 1098.3 1642.5 1105.0C1644.6 1111.7 1645.8 1118.3 1647.5 1125.0C1649.2 1131.7 1650.8 1138.3 1652.5 1145.0C1654.2 1151.7 1655.8 1158.3 1657.5 1165.0C1659.2 1171.7 1660.4 1178.3 1662.5 1185.0C1664.6 1191.7 1667.5 1199.2 1670.0 1205.0C1672.5 1210.8 1675.8 1215.8 1677.5 1220.0C1679.2 1224.2 1680.8 1226.2 1680.0 1230.0C1679.2 1233.8 1675.4 1238.3 1672.5 1242.5C1669.6 1246.7 1665.4 1250.4 1662.5 1255.0C1659.6 1259.6 1657.5 1264.6 1655.0 1270.0C1652.5 1275.4 1649.6 1281.2 1647.5 1287.5C1645.4 1293.8 1644.2 1300.8 1642.5 1307.5C1640.8 1314.2 1639.0 1320.4 1637.5 1327.5C1636.0 1334.6 1635.2 1346.2 1633.8 1350.0C1632.3 1353.8 1630.5 1345.8 1628.8 1350.0C1627.0 1354.2 1625.0 1365.4 1623.0 1375.0C1621.0 1384.6 1618.6 1399.2 1617.0 1407.5C1615.4 1415.8 1614.4 1422.1 1613.5 1425.0C1612.6 1427.9 1611.8 1428.3 1611.8 1425.0C1611.7 1421.7 1612.2 1413.3 1613.0 1405.0C1613.8 1396.7 1615.1 1384.2 1616.2 1375.0C1617.4 1365.8 1619.0 1358.3 1620.0 1350.0C1621.0 1341.7 1621.7 1333.3 1622.5 1325.0C1623.3 1316.7 1623.8 1304.2 1625.0 1300.0C1626.2 1295.8 1628.8 1304.2 1630.0 1300.0C1631.2 1295.8 1631.7 1283.3 1632.5 1275.0C1633.3 1266.7 1634.6 1258.3 1635.0 1250.0C1635.4 1241.7 1635.2 1233.3 1635.0 1225.0C1634.8 1216.7 1633.8 1208.3 1633.8 1200.0C1633.8 1191.7 1634.6 1182.5 1635.0 1175.0C1635.4 1167.5 1636.7 1162.5 1636.2 1155.0C1635.8 1147.5 1634.0 1138.3 1632.5 1130.0C1631.0 1121.7 1629.6 1113.3 1627.5 1105.0C1625.4 1096.7 1622.9 1087.9 1620.0 1080.0C1617.1 1072.1 1613.8 1064.2 1610.0 1057.5C1606.2 1050.8 1602.1 1045.0 1597.5 1040.0C1592.9 1035.0 1588.3 1031.0 1582.5 1027.5C1576.7 1024.0 1570.0 1021.2 1562.5 1018.8C1555.0 1016.2 1545.8 1013.8 1537.5 1012.5C1529.2 1011.2 1520.8 1011.2 1512.5 1011.2C1504.2 1011.2 1495.8 1011.5 1487.5 1012.5C1479.2 1013.5 1470.8 1015.4 1462.5 1017.5C1454.2 1019.6 1445.8 1022.1 1437.5 1025.0C1429.2 1027.9 1419.6 1031.9 1412.5 1035.0C1405.4 1038.1 1397.1 1045.4 1395.0 1043.8C1392.9 1042.1 1397.9 1031.5 1400.0 1025.0C1402.1 1018.5 1405.4 1011.7 1407.5 1005.0C1409.6 998.3 1411.2 991.7 1412.5 985.0C1413.8 978.3 1414.6 971.7 1415.0 965.0C1415.4 958.3 1413.3 950.4 1415.0 945.0C1416.7 939.6 1420.8 937.1 1425.0 932.5C1429.2 927.9 1435.6 922.1 1440.0 917.5C1444.4 912.9 1449.2 909.6 1451.2 905.0C1453.3 900.4 1452.3 894.2 1452.5 890.0C1452.7 885.8 1450.4 882.5 1452.5 880.0Z" fill="#d8584a" stroke="#d8584a" stroke-width="2.5" stroke-linejoin="round"/>
<path d="M1622.5 1337.5C1621.7 1343.8 1619.2 1362.5 1617.5 1375.0C1615.8 1387.5 1613.8 1400.0 1612.5 1412.5C1611.2 1425.0 1610.5 1439.6 1610.0 1450.0C1609.5 1460.4 1608.9 1466.7 1609.2 1475.0C1609.6 1483.3 1610.9 1491.7 1612.0 1500.0C1613.1 1508.3 1614.3 1516.7 1615.8 1525.0C1617.2 1533.3 1619.1 1541.7 1620.8 1550.0C1622.4 1558.3 1623.9 1566.7 1625.8 1575.0C1627.6 1583.3 1630.0 1593.1 1631.8 1600.0C1633.5 1606.9 1635.7 1613.8 1636.5 1616.5" fill="none" stroke="#8a2f2a" stroke-width="3"/>
<path d="M1263.8 827.5C1264.4 823.3 1264.8 810.4 1267.5 802.5C1270.2 794.6 1273.8 787.1 1280.0 780.0C1286.2 772.9 1295.0 765.6 1305.0 760.0C1315.0 754.4 1327.5 749.0 1340.0 746.2C1352.5 743.5 1367.5 743.5 1380.0 743.8C1392.5 744.0 1402.9 744.6 1415.0 747.5C1427.1 750.4 1440.0 756.5 1452.5 761.2C1465.0 766.0 1477.5 771.2 1490.0 776.2C1502.5 781.2 1515.0 786.0 1527.5 791.2C1540.0 796.5 1552.5 801.9 1565.0 807.5C1577.5 813.1 1590.0 818.8 1602.5 825.0C1615.0 831.2 1627.5 837.5 1640.0 845.0C1652.5 852.5 1666.2 861.7 1677.5 870.0C1688.8 878.3 1699.2 886.7 1707.5 895.0C1715.8 903.3 1722.9 911.7 1727.5 920.0C1732.1 928.3 1734.6 937.5 1735.0 945.0C1735.4 952.5 1733.3 959.6 1730.0 965.0C1726.7 970.4 1720.8 974.6 1715.0 977.5C1709.2 980.4 1700.4 982.1 1695.0 982.5C1689.6 982.9 1684.6 980.4 1682.5 980.0L1682.5 980.0C1679.6 979.2 1670.4 977.9 1665.0 975.0C1659.6 972.1 1655.0 967.5 1650.0 962.5C1645.0 957.5 1640.8 951.2 1635.0 945.0C1629.2 938.8 1622.5 931.2 1615.0 925.0C1607.5 918.8 1598.3 912.5 1590.0 907.5C1581.7 902.5 1573.3 899.2 1565.0 895.0C1556.7 890.8 1548.3 886.2 1540.0 882.5C1531.7 878.8 1523.3 875.4 1515.0 872.5C1506.7 869.6 1498.3 866.9 1490.0 865.0C1481.7 863.1 1471.7 861.7 1465.0 861.2C1458.3 860.8 1453.7 861.0 1450.0 862.5C1446.3 864.0 1444.2 868.8 1443.0 870.0L1443.0 870.0C1442.7 868.3 1440.9 862.9 1441.2 860.0C1441.6 857.1 1443.1 854.4 1445.0 852.5C1446.9 850.6 1447.1 850.0 1452.5 848.8C1457.9 847.5 1469.2 845.0 1477.5 845.0C1485.8 845.0 1494.2 846.9 1502.5 848.8C1510.8 850.6 1519.2 853.5 1527.5 856.2C1535.8 859.0 1544.2 861.9 1552.5 865.0C1560.8 868.1 1569.4 872.2 1577.5 875.0C1585.6 877.8 1597.3 880.8 1601.2 882.0L1601.2 882.0C1597.7 878.3 1587.7 866.2 1580.0 860.0C1572.3 853.8 1563.3 849.6 1555.0 845.0C1546.7 840.4 1538.3 836.2 1530.0 832.5C1521.7 828.8 1513.3 825.8 1505.0 822.5C1496.7 819.2 1488.3 815.2 1480.0 812.5C1471.7 809.8 1464.2 807.7 1455.0 806.2C1445.8 804.8 1435.0 803.8 1425.0 803.8C1415.0 803.8 1404.2 804.6 1395.0 806.2C1385.8 807.9 1377.1 810.6 1370.0 813.8C1362.9 816.9 1357.1 821.0 1352.5 825.0C1347.9 829.0 1342.9 832.1 1342.5 837.5C1342.1 842.9 1346.7 850.8 1350.0 857.5C1353.3 864.2 1357.5 870.8 1362.5 877.5C1367.5 884.2 1374.6 891.2 1380.0 897.5C1385.4 903.8 1390.0 909.2 1395.0 915.0C1400.0 920.8 1406.7 927.5 1410.0 932.5C1413.3 937.5 1414.2 939.6 1415.0 945.0C1415.8 950.4 1415.4 958.3 1415.0 965.0C1414.6 971.7 1413.8 978.3 1412.5 985.0C1411.2 991.7 1409.6 998.3 1407.5 1005.0C1405.4 1011.7 1402.4 1019.2 1400.0 1025.0C1397.6 1030.8 1394.2 1037.5 1393.0 1040.0L1393.0 1040.0C1390.8 1040.4 1383.0 1042.7 1380.0 1042.5C1377.0 1042.3 1373.3 1042.5 1375.0 1038.8C1376.7 1035.0 1386.2 1026.5 1390.0 1020.0C1393.8 1013.5 1395.8 1006.7 1397.5 1000.0C1399.2 993.3 1400.0 986.7 1400.0 980.0C1400.0 973.3 1399.2 965.8 1397.5 960.0C1395.8 954.2 1393.8 949.6 1390.0 945.0C1386.2 940.4 1381.2 936.7 1375.0 932.5C1368.8 928.3 1360.8 924.6 1352.5 920.0C1344.2 915.4 1333.8 910.4 1325.0 905.0C1316.2 899.6 1307.5 893.3 1300.0 887.5C1292.5 881.7 1285.4 876.2 1280.0 870.0C1274.6 863.8 1270.2 857.1 1267.5 850.0C1264.8 842.9 1264.4 831.2 1263.8 827.5Z" fill="#f0eeee"/>
<path d="M1682.5 980.0C1684.6 980.4 1689.6 982.9 1695.0 982.5C1700.4 982.1 1709.2 980.4 1715.0 977.5C1720.8 974.6 1726.7 970.4 1730.0 965.0C1733.3 959.6 1735.4 952.5 1735.0 945.0C1734.6 937.5 1732.1 928.3 1727.5 920.0C1722.9 911.7 1715.8 903.3 1707.5 895.0C1699.2 886.7 1688.8 878.3 1677.5 870.0C1666.2 861.7 1652.5 852.5 1640.0 845.0C1627.5 837.5 1615.0 831.2 1602.5 825.0C1590.0 818.8 1577.5 813.1 1565.0 807.5C1552.5 801.9 1540.0 796.5 1527.5 791.2C1515.0 786.0 1502.5 781.2 1490.0 776.2C1477.5 771.2 1465.0 766.0 1452.5 761.2C1440.0 756.5 1427.1 750.4 1415.0 747.5C1402.9 744.6 1392.5 744.0 1380.0 743.8C1367.5 743.5 1352.5 743.5 1340.0 746.2C1327.5 749.0 1315.0 754.4 1305.0 760.0C1295.0 765.6 1286.2 772.9 1280.0 780.0C1273.8 787.1 1270.2 794.6 1267.5 802.5C1264.8 810.4 1263.8 819.6 1263.8 827.5C1263.8 835.4 1264.8 842.9 1267.5 850.0C1270.2 857.1 1276.6 865.6 1280.0 870.0C1283.4 874.4 1282.1 871.9 1288.0 876.3C1294.0 880.7 1307.5 890.4 1315.7 896.4C1323.8 902.5 1329.3 907.1 1337.0 912.8C1344.8 918.4 1358.0 927.4 1362.2 930.4" fill="none" stroke="#b4642b" stroke-width="3.5" stroke-linecap="round" stroke-linejoin="round"/>
<path d="M1601.2 882.0C1597.7 878.3 1587.7 866.2 1580.0 860.0C1572.3 853.8 1563.3 849.6 1555.0 845.0C1546.7 840.4 1538.3 836.2 1530.0 832.5C1521.7 828.8 1513.3 825.8 1505.0 822.5C1496.7 819.2 1488.3 815.2 1480.0 812.5C1471.7 809.8 1464.2 807.7 1455.0 806.2C1445.8 804.8 1435.0 803.8 1425.0 803.8C1415.0 803.8 1404.2 804.6 1395.0 806.2C1385.8 807.9 1377.1 810.6 1370.0 813.8C1362.9 816.9 1357.1 821.0 1352.5 825.0C1347.9 829.0 1342.9 832.1 1342.5 837.5C1342.1 842.9 1346.7 850.8 1350.0 857.5C1353.3 864.2 1357.5 870.8 1362.5 877.5C1367.5 884.2 1374.6 891.2 1380.0 897.5C1385.4 903.8 1390.0 909.2 1395.0 915.0C1400.0 920.8 1406.7 927.5 1410.0 932.5C1413.3 937.5 1414.2 939.6 1415.0 945.0C1415.8 950.4 1415.4 958.3 1415.0 965.0C1414.6 971.7 1413.8 978.3 1412.5 985.0C1411.2 991.7 1409.6 998.3 1407.5 1005.0C1405.4 1011.7 1402.4 1019.2 1400.0 1025.0C1397.6 1030.8 1394.2 1037.5 1393.0 1040.0" fill="none" stroke="#b4642b" stroke-width="3" stroke-linecap="round" stroke-linejoin="round"/>
<path d="M1443.0 870.0C1442.7 868.3 1440.9 862.9 1441.2 860.0C1441.6 857.1 1443.1 854.4 1445.0 852.5C1446.9 850.6 1447.1 850.0 1452.5 848.8C1457.9 847.5 1469.2 845.0 1477.5 845.0C1485.8 845.0 1494.2 846.9 1502.5 848.8C1510.8 850.6 1519.2 853.5 1527.5 856.2C1535.8 859.0 1544.2 861.9 1552.5 865.0C1560.8 868.1 1569.4 872.2 1577.5 875.0C1585.6 877.8 1597.3 880.8 1601.2 882.0" fill="none" stroke="#b4642b" stroke-width="3" stroke-linecap="round" stroke-linejoin="round"/>
<path d="M1665.0 976.2C1662.5 974.2 1655.0 968.8 1650.0 963.8C1645.0 958.8 1640.8 952.5 1635.0 946.2C1629.2 940.0 1622.5 932.5 1615.0 926.2C1607.5 920.0 1598.3 913.8 1590.0 908.8C1581.7 903.8 1573.3 900.4 1565.0 896.2C1556.7 892.1 1548.3 887.5 1540.0 883.8C1531.7 880.0 1523.3 876.7 1515.0 873.8C1506.7 870.8 1498.3 868.1 1490.0 866.2C1481.7 864.4 1471.5 862.9 1465.0 862.5C1458.5 862.1 1454.7 862.4 1451.2 863.8C1447.8 865.1 1445.6 869.4 1444.5 870.5" fill="none" stroke="#6ec0c8" stroke-width="5"/>
<path d="M1400.8 1025.0C1402.0 1021.7 1406.2 1011.7 1408.2 1005.0C1410.3 998.3 1412.0 991.7 1413.2 985.0C1414.5 978.3 1415.3 971.7 1415.8 965.0C1416.2 958.3 1415.8 948.3 1415.8 945.0" fill="none" stroke="#d8584a" stroke-width="4"/>
<path d="M1387.5 1032.5C1386.9 1034.2 1384.2 1044.2 1383.8 1042.5C1383.3 1040.8 1386.5 1022.1 1385.0 1022.5C1383.5 1022.9 1377.1 1038.8 1375.0 1045.0C1372.9 1051.2 1372.9 1057.5 1372.5 1060.0" fill="none" stroke="#f6f4f4" stroke-width="15" stroke-linecap="round" stroke-linejoin="round"/>
<path d="M1360.0 1047.5C1363.5 1044.6 1370.0 1042.9 1375.0 1042.5C1380.0 1042.1 1386.2 1042.5 1390.0 1045.0C1393.8 1047.5 1397.1 1052.5 1397.5 1057.5C1397.9 1062.5 1394.6 1070.4 1392.5 1075.0C1390.4 1079.6 1387.1 1079.6 1385.0 1085.0C1382.9 1090.4 1380.0 1100.0 1380.0 1107.5C1380.0 1115.0 1384.2 1123.8 1385.0 1130.0C1385.8 1136.2 1386.7 1140.4 1385.0 1145.0C1383.3 1149.6 1379.2 1155.0 1375.0 1157.5C1370.8 1160.0 1364.6 1161.2 1360.0 1160.0C1355.4 1158.8 1349.6 1154.2 1347.5 1150.0C1345.4 1145.8 1345.4 1139.2 1347.5 1135.0C1349.6 1130.8 1356.7 1129.6 1360.0 1125.0C1363.3 1120.4 1365.8 1114.2 1367.5 1107.5C1369.2 1100.8 1371.2 1090.8 1370.0 1085.0C1368.8 1079.2 1362.7 1076.7 1360.0 1072.5C1357.3 1068.3 1353.8 1064.2 1353.8 1060.0C1353.8 1055.8 1356.5 1050.4 1360.0 1047.5Z" fill="#f6f4f4"/>
<path d="M1390.0 1046.2C1392.5 1040.4 1404.6 1042.7 1412.5 1041.2C1420.4 1039.8 1429.2 1037.7 1437.5 1037.5C1445.8 1037.3 1455.0 1038.3 1462.5 1040.0C1470.0 1041.7 1476.2 1043.8 1482.5 1047.5C1488.8 1051.2 1495.8 1056.7 1500.0 1062.5C1504.2 1068.3 1505.8 1075.4 1507.5 1082.5C1509.2 1089.6 1511.0 1100.0 1510.0 1105.0C1509.0 1110.0 1503.8 1114.6 1501.2 1112.5C1498.8 1110.4 1497.7 1098.3 1495.0 1092.5C1492.3 1086.7 1489.2 1081.9 1485.0 1077.5C1480.8 1073.1 1475.8 1069.2 1470.0 1066.2C1464.2 1063.3 1456.7 1061.2 1450.0 1060.0C1443.3 1058.8 1436.7 1057.8 1430.0 1058.8C1423.3 1059.7 1415.4 1062.6 1410.0 1065.5C1404.6 1068.4 1400.8 1079.5 1397.5 1076.2C1394.2 1073.0 1387.5 1052.1 1390.0 1046.2Z" fill="#f6f4f4"/>
<path d="M1742.5 278.0L1641.5 459.9" fill="none" stroke="#0c0c0c" stroke-width="5.7" stroke-dasharray="6 18" stroke-linecap="round"/>
<path d="M1641.5 459.9L1468.8 771.0" fill="none" stroke="#0c0c0c" stroke-width="7.6" stroke-dasharray="7 17" stroke-linecap="round" stroke-dashoffset="16.05"/>
<path d="M2084.0 412.5L1874.0 549.8" fill="none" stroke="#0c0c0c" stroke-width="5.7" stroke-dasharray="6 18" stroke-linecap="round"/>
<path d="M1874.0 549.8L1455.0 823.8" fill="none" stroke="#0c0c0c" stroke-width="7.6" stroke-dasharray="7 17" stroke-linecap="round" stroke-dashoffset="10.90"/>
<path d="M848.3 573.8L1002.5 654.0" fill="none" stroke="#0c0c0c" stroke-width="5.7" stroke-dasharray="6 18" stroke-linecap="round"/>
<path d="M1002.5 654.0L1540.0 933.8" fill="none" stroke="#0c0c0c" stroke-width="7.6" stroke-dasharray="7 17" stroke-linecap="round" stroke-dashoffset="5.83"/>
<path d="M865.0 756.7L972.0 792.9" fill="none" stroke="#0c0c0c" stroke-width="5.7" stroke-dasharray="6 18" stroke-linecap="round"/>
<path d="M972.0 792.9L1617.5 1011.0" fill="none" stroke="#0c0c0c" stroke-width="7.6" stroke-dasharray="7 17" stroke-linecap="round" stroke-dashoffset="16.94"/>
<path d="M910.0 925.0L1022.0 942.5" fill="none" stroke="#0c0c0c" stroke-width="5.7" stroke-dasharray="6 18" stroke-linecap="round"/>
<path d="M1022.0 942.5L1452.5 1010.0" fill="none" stroke="#0c0c0c" stroke-width="7.6" stroke-dasharray="7 17" stroke-linecap="round" stroke-dashoffset="17.37"/>
<path d="M2113.7 800.7L2088.0 819.5" fill="none" stroke="#0c0c0c" stroke-width="5.7" stroke-dasharray="6 18" stroke-linecap="round"/>
<path d="M2088.0 819.5L1522.5 1233.8" fill="none" stroke="#0c0c0c" stroke-width="7.6" stroke-dasharray="7 17" stroke-linecap="round" stroke-dashoffset="7.86"/>
<path d="M2270.5 926.5L2120.0 1004.2" fill="none" stroke="#0c0c0c" stroke-width="5.7" stroke-dasharray="6 18" stroke-linecap="round"/>
<path d="M2120.0 1004.2L1793.8 1172.5" fill="none" stroke="#0c0c0c" stroke-width="7.6" stroke-dasharray="7 17" stroke-linecap="round" stroke-dashoffset="1.35"/>
<path d="M2100.0 1155.0L1598.8 1305.0" fill="none" stroke="#0c0c0c" stroke-width="7.6" stroke-dasharray="7 17" stroke-linecap="round"/>
<path d="M2183.0 1466.5L1562.0 1464.0" fill="none" stroke="#0c0c0c" stroke-width="7.6" stroke-dasharray="7 17" stroke-linecap="round"/>
<path d="M1220.0 1430.0L1340.0 1195.0" fill="none" stroke="#0c0c0c" stroke-width="5.7" stroke-dasharray="6 18" stroke-linecap="round"/>
<path d="M1340.0 1195.0L1370.0 1136.2" fill="none" stroke="#0c0c0c" stroke-width="7.6" stroke-dasharray="7 17" stroke-linecap="round" stroke-dashoffset="23.87"/>
<path d="M965.3 1134.7 L1253 1097.5" fill="none" stroke="#8c1f4c" stroke-width="4.5" stroke-dasharray="5 17.7" stroke-linecap="round"/>
<path d="M1253 1097.5 L1372 1082" fill="none" stroke="#6a2a3a" stroke-width="3" stroke-dasharray="5 17.7" stroke-linecap="round" opacity="0.5"/>
<path d="M1372 1082 L1500 1065.5" fill="none" stroke="#8a1a2c" stroke-width="4" stroke-dasharray="5 17.7" stroke-linecap="round"/>
<path d="M2212.0 573.0C2226.7 573.7 2268.7 572.8 2300.0 577.0C2331.3 581.2 2362.0 586.8 2400.0 598.0C2438.0 609.2 2482.2 621.2 2528.0 644.0C2573.8 666.8 2637.2 703.3 2675.0 735.0C2712.8 766.7 2731.4 799.6 2754.6 834.0C2777.8 868.4 2797.5 907.8 2814.0 941.6C2830.5 975.4 2843.2 1004.4 2853.8 1036.8C2864.4 1069.2 2872.3 1110.2 2877.6 1136.0C2882.9 1161.8 2884.2 1182.3 2885.5 1191.6" fill="none" stroke="#4a103a" stroke-width="5" stroke-dasharray="3.5 19.5" stroke-linecap="round"/>
<path d="M276.8 293 L275.8 217 L690 221.3 Q704 222 704 236 L704.6 306" fill="none" stroke="#4a103a" stroke-width="5.2" stroke-dasharray="4.5 19" stroke-linecap="round" stroke-linejoin="round"/>
<path d="M270.5 438 L272.5 992" fill="none" stroke="#3f7fd0" stroke-width="3.2"/>
<path d="M271 992.5 L1210 999.5" fill="none" stroke="#1b55b8" stroke-width="4.5"/>
<path d="M675.5 448 L676 518 M676 619 L675.5 688 M679 799 L680.5 870" fill="none" stroke="#2563c2" stroke-width="5" stroke-linecap="round"/>
<g filter="url(#bt)" font-weight="bold" fill="#e71c2a">
<text x="443.9" y="171.3" font-size="87">I</text>
<text x="886.6" y="1173" font-size="85.5" letter-spacing="0.8">II</text>
<text x="2744.6" y="757" font-size="86.2" letter-spacing="1.84">III</text>
</g>
<g filter="url(#bt)">
<text transform="translate(105.90 397.00) rotate(-0.35) scale(1.0411 1)" font-size="93.0" fill="#0a0a0a" stroke="#0a0a0a" stroke-width="1.2">Uç beyin</text>
<text transform="translate(586.55 406.50) rotate(0.55) scale(1.0280 1)" font-size="93.0" fill="#0a0a0a" stroke="#0a0a0a" stroke-width="1.2">Ara beyin</text>
<text transform="translate(443.01 595.50) rotate(0.00) scale(1.0132 1)" font-size="95.5" fill="#0a0a0a" stroke="#0a0a0a" stroke-width="1.2">Talamus</text>
<text transform="translate(316.26 770.00) rotate(0.00) scale(1.0036 1)" font-size="97.0" fill="#0a0a0a" stroke="#0a0a0a" stroke-width="1.2">Epitalamus</text>
<text transform="translate(334.68 946.50) rotate(0.00) scale(1.0016 1)" font-size="97.0" fill="#0a0a0a" stroke="#0a0a0a" stroke-width="1.2">Hipotalamus</text>
<text transform="translate(1689.86 234.50) rotate(0.00) scale(1.0197 1)" font-size="93.0" fill="#0a0a0a" stroke="#0a0a0a" stroke-width="1.2">Nasırlı cisim</text>
<text transform="translate(2108.47 422.00) rotate(0.00) scale(1.0329 1)" font-size="93.0" fill="#0a0a0a" stroke="#0a0a0a" stroke-width="1.2">Beyin üçgeni</text>
<text transform="translate(2088.21 737.50) rotate(0.00) scale(1.0140 1)" font-size="93.0" fill="#0a0a0a" stroke="#0a0a0a" stroke-width="1.2">Pons</text>
<text transform="translate(2313.15 945.00) rotate(0.30) scale(1.0160 1)" font-size="93.5" fill="#0a0a0a" stroke="#0a0a0a" stroke-width="1.2">Beyincik</text>
<text transform="translate(2139.46 1180.70) rotate(0.00) scale(1.0082 1)" font-size="95.0" fill="#0a0a0a" stroke="#0a0a0a" stroke-width="1.2">Omurilik soğanı</text>
<text transform="translate(2237.71 1503.00) rotate(0.00) scale(0.9884 1)" font-size="96.0" fill="#0a0a0a" stroke="#0a0a0a" stroke-width="1.2">Omurilik</text>
<text transform="translate(899.04 1514.00) rotate(0.00) scale(0.9981 1)" font-size="96.5" fill="#0a0a0a" stroke="#0a0a0a" stroke-width="1.2">Hipofiz bezi</text>
<text transform="translate(1280.66 1767.00) rotate(0.00) scale(0.9833 1)" font-size="96.5" fill="#1450c8" stroke="#1450c8" stroke-width="1.2">Beynin bölümleri</text>
</g>
</svg>
</body></html>
